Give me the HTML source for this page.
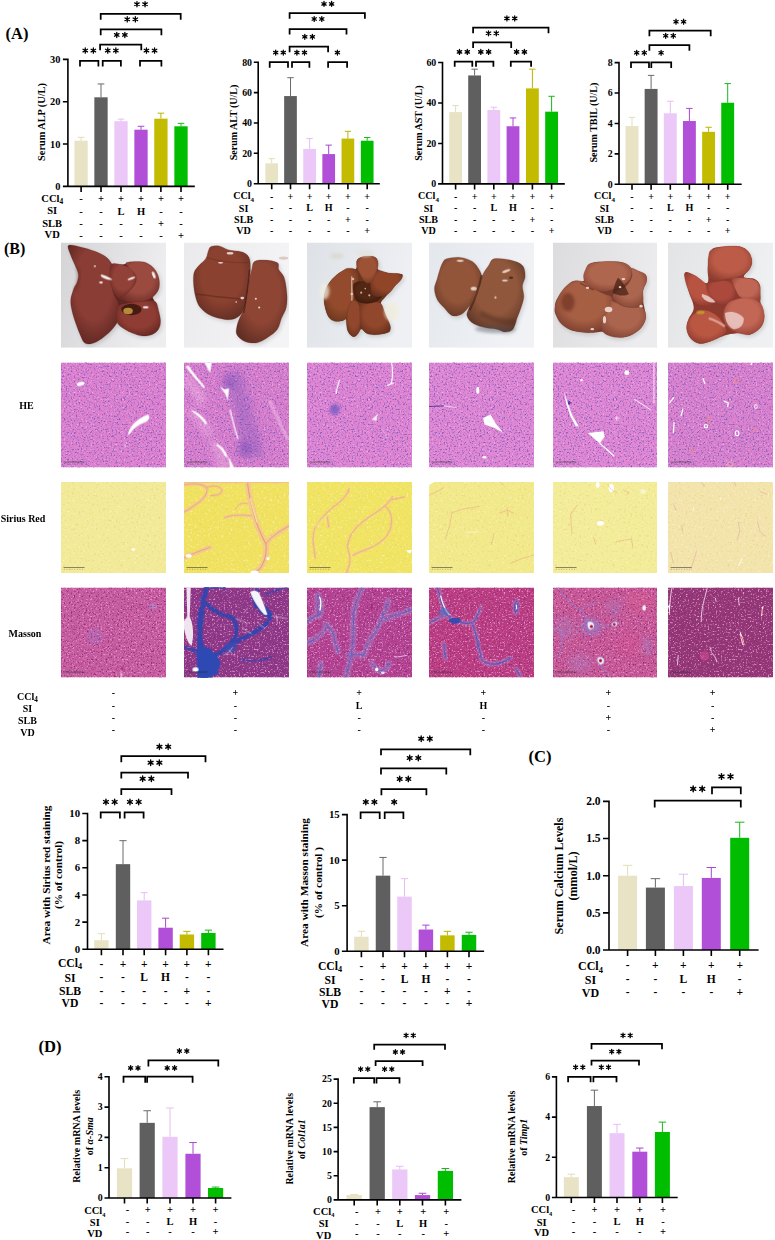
<!DOCTYPE html><html><head><meta charset="utf-8"><style>html,body{margin:0;padding:0;background:#fff;overflow:hidden}svg{display:block}text{font-family:"Liberation Serif",serif;font-weight:bold;fill:#000}</style></head><body>
<svg width="775" height="1240" viewBox="0 0 775 1240">
<rect width="775" height="1240" fill="#fff"/>
<defs><filter id="tHE" x="0" y="0" width="100%" height="100%" color-interpolation-filters="sRGB"><feTurbulence type="fractalNoise" baseFrequency="0.6" numOctaves="2" seed="4" result="n"/><feColorMatrix in="n" type="matrix" values="0 0 0 0 0.941 0 0 0 0 0.690 0 0 0 0 0.886 3.5 0 0 0 -2.0" result="l1"/><feGaussianBlur in="l1" stdDeviation="0.45" result="l1b"/><feColorMatrix in="n" type="matrix" values="0 0 0 0 0.494 0 0 0 0 0.376 0 0 0 0 0.761 0 4 0 0 -2.15" result="l2"/><feGaussianBlur in="l2" stdDeviation="0.45" result="l2b"/><feMerge><feMergeNode in="SourceGraphic"/><feMergeNode in="l1b"/><feMergeNode in="l2b"/></feMerge></filter>
<filter id="tSR" x="0" y="0" width="100%" height="100%" color-interpolation-filters="sRGB"><feTurbulence type="fractalNoise" baseFrequency="0.45" numOctaves="2" seed="7" result="n"/><feColorMatrix in="n" type="matrix" values="0 0 0 0 0.980 0 0 0 0 0.965 0 0 0 0 0.753 3 0 0 0 -1.75" result="l1"/><feGaussianBlur in="l1" stdDeviation="0.5" result="l1b"/><feColorMatrix in="n" type="matrix" values="0 0 0 0 0.894 0 0 0 0 0.816 0 0 0 0 0.439 0 3 0 0 -1.85" result="l2"/><feGaussianBlur in="l2" stdDeviation="0.5" result="l2b"/><feMerge><feMergeNode in="SourceGraphic"/><feMergeNode in="l1b"/><feMergeNode in="l2b"/></feMerge></filter>
<filter id="tMA" x="0" y="0" width="100%" height="100%" color-interpolation-filters="sRGB"><feTurbulence type="fractalNoise" baseFrequency="0.6" numOctaves="2" seed="11" result="n"/><feColorMatrix in="n" type="matrix" values="0 0 0 0 0.886 0 0 0 0 0.596 0 0 0 0 0.800 4 0 0 0 -2.2" result="l1"/><feGaussianBlur in="l1" stdDeviation="0.45" result="l1b"/><feColorMatrix in="n" type="matrix" values="0 0 0 0 0.557 0 0 0 0 0.173 0 0 0 0 0.455 0 4 0 0 -2.2" result="l2"/><feGaussianBlur in="l2" stdDeviation="0.45" result="l2b"/><feMerge><feMergeNode in="SourceGraphic"/><feMergeNode in="l1b"/><feMergeNode in="l2b"/></feMerge></filter>
<filter id="soft" x="-20%" y="-20%" width="140%" height="140%"><feGaussianBlur stdDeviation="4"/></filter>
<filter id="soft2" x="-20%" y="-20%" width="140%" height="140%"><feGaussianBlur stdDeviation="6"/></filter>
<filter id="rough" x="-10%" y="-10%" width="120%" height="120%"><feTurbulence type="fractalNoise" baseFrequency="0.045" numOctaves="2" seed="5" result="t"/><feDisplacementMap in="SourceGraphic" in2="t" scale="28" xChannelSelector="R" yChannelSelector="G" result="d"/><feGaussianBlur in="d" stdDeviation="3"/></filter>
<filter id="rough2" x="-10%" y="-10%" width="120%" height="120%"><feTurbulence type="fractalNoise" baseFrequency="0.06" numOctaves="2" seed="9" result="t"/><feDisplacementMap in="SourceGraphic" in2="t" scale="22" xChannelSelector="R" yChannelSelector="G" result="d"/><feGaussianBlur in="d" stdDeviation="2.5"/></filter>
<filter id="soft3" x="-20%" y="-20%" width="140%" height="140%"><feGaussianBlur stdDeviation="25"/></filter><filter id="pb1" x="-50%" y="-50%" width="200%" height="200%"><feGaussianBlur stdDeviation="4"/></filter>
<filter id="pb2" x="-50%" y="-50%" width="200%" height="200%"><feGaussianBlur stdDeviation="12"/></filter>
<filter id="psh" x="-20%" y="-20%" width="140%" height="140%"><feGaussianBlur stdDeviation="14"/></filter>
<linearGradient id="bg0" x1="0" y1="0" x2="1" y2="0.3"><stop offset="0" stop-color="#D4D4D6"/><stop offset="1" stop-color="#EEEEF0"/></linearGradient>
<radialGradient id="lg0_0" cx="50%" cy="40%" r="65%"><stop offset="0" stop-color="#893D35"/><stop offset=".55" stop-color="#893D35"/><stop offset="1" stop-color="#5E2521"/></radialGradient>
<radialGradient id="lg0_1" cx="50%" cy="40%" r="65%"><stop offset="0" stop-color="#914137"/><stop offset=".55" stop-color="#914137"/><stop offset="1" stop-color="#662823"/></radialGradient>
<radialGradient id="lg0_2" cx="50%" cy="40%" r="65%"><stop offset="0" stop-color="#9A4A3F"/><stop offset=".55" stop-color="#9A4A3F"/><stop offset="1" stop-color="#6D2C25"/></radialGradient>
<radialGradient id="lg0_3" cx="50%" cy="40%" r="65%"><stop offset="0" stop-color="#8F3D34"/><stop offset=".55" stop-color="#8F3D34"/><stop offset="1" stop-color="#622721"/></radialGradient>
<linearGradient id="bg1" x1="0" y1="0" x2="1" y2="0.3"><stop offset="0" stop-color="#EAEAEC"/><stop offset="1" stop-color="#F4F4F6"/></linearGradient>
<radialGradient id="lg1_0" cx="50%" cy="40%" r="65%"><stop offset="0" stop-color="#8B4130"/><stop offset=".55" stop-color="#8B4130"/><stop offset="1" stop-color="#612D23"/></radialGradient>
<radialGradient id="lg1_1" cx="50%" cy="40%" r="65%"><stop offset="0" stop-color="#8E4534"/><stop offset=".55" stop-color="#8E4534"/><stop offset="1" stop-color="#632F25"/></radialGradient>
<linearGradient id="bg2" x1="0" y1="0" x2="1" y2="0.3"><stop offset="0" stop-color="#DEE1E6"/><stop offset="1" stop-color="#EEF0F4"/></linearGradient>
<radialGradient id="lg2_0" cx="50%" cy="40%" r="65%"><stop offset="0" stop-color="#944B2D"/><stop offset=".55" stop-color="#944B2D"/><stop offset="1" stop-color="#6B361E"/></radialGradient>
<radialGradient id="lg2_1" cx="50%" cy="40%" r="65%"><stop offset="0" stop-color="#90472B"/><stop offset=".55" stop-color="#90472B"/><stop offset="1" stop-color="#67301E"/></radialGradient>
<radialGradient id="lg2_2" cx="50%" cy="40%" r="65%"><stop offset="0" stop-color="#90472B"/><stop offset=".55" stop-color="#90472B"/><stop offset="1" stop-color="#69321E"/></radialGradient>
<radialGradient id="lg2_3" cx="50%" cy="40%" r="65%"><stop offset="0" stop-color="#542714"/><stop offset=".55" stop-color="#542714"/><stop offset="1" stop-color="#3A1A0F"/></radialGradient>
<radialGradient id="lg2_4" cx="50%" cy="40%" r="65%"><stop offset="0" stop-color="#904529"/><stop offset=".55" stop-color="#904529"/><stop offset="1" stop-color="#672F1E"/></radialGradient>
<radialGradient id="lg2_5" cx="50%" cy="40%" r="65%"><stop offset="0" stop-color="#9D5236"/><stop offset=".55" stop-color="#9D5236"/><stop offset="1" stop-color="#723A21"/></radialGradient>
<linearGradient id="bg3" x1="0" y1="0" x2="1" y2="0.3"><stop offset="0" stop-color="#E4E7EC"/><stop offset="1" stop-color="#F0F2F6"/></linearGradient>
<radialGradient id="lg3_0" cx="50%" cy="40%" r="65%"><stop offset="0" stop-color="#92553A"/><stop offset=".55" stop-color="#92553A"/><stop offset="1" stop-color="#643724"/></radialGradient>
<radialGradient id="lg3_1" cx="50%" cy="40%" r="65%"><stop offset="0" stop-color="#90573C"/><stop offset=".55" stop-color="#90573C"/><stop offset="1" stop-color="#5D3527"/></radialGradient>
<linearGradient id="bg4" x1="0" y1="0" x2="1" y2="0.3"><stop offset="0" stop-color="#DCDCDE"/><stop offset="1" stop-color="#ECECEE"/></linearGradient>
<radialGradient id="lg4_0" cx="50%" cy="40%" r="65%"><stop offset="0" stop-color="#A75F44"/><stop offset=".55" stop-color="#A75F44"/><stop offset="1" stop-color="#773C2D"/></radialGradient>
<radialGradient id="lg4_1" cx="50%" cy="40%" r="65%"><stop offset="0" stop-color="#AB644D"/><stop offset=".55" stop-color="#AB644D"/><stop offset="1" stop-color="#834635"/></radialGradient>
<radialGradient id="lg4_2" cx="50%" cy="40%" r="65%"><stop offset="0" stop-color="#AC6650"/><stop offset=".55" stop-color="#AC6650"/><stop offset="1" stop-color="#844634"/></radialGradient>
<radialGradient id="lg4_3" cx="50%" cy="40%" r="65%"><stop offset="0" stop-color="#AE664E"/><stop offset=".55" stop-color="#AE664E"/><stop offset="1" stop-color="#864434"/></radialGradient>
<linearGradient id="bg5" x1="0" y1="0" x2="1" y2="0.3"><stop offset="0" stop-color="#E2E4E6"/><stop offset="1" stop-color="#EEF0F2"/></linearGradient>
<radialGradient id="lg5_0" cx="50%" cy="40%" r="65%"><stop offset="0" stop-color="#BA5743"/><stop offset=".55" stop-color="#BA5743"/><stop offset="1" stop-color="#8D3A2E"/></radialGradient>
<radialGradient id="lg5_1" cx="50%" cy="40%" r="65%"><stop offset="0" stop-color="#B85341"/><stop offset=".55" stop-color="#B85341"/><stop offset="1" stop-color="#8D382E"/></radialGradient>
<radialGradient id="lg5_2" cx="50%" cy="40%" r="65%"><stop offset="0" stop-color="#AA493C"/><stop offset=".55" stop-color="#AA493C"/><stop offset="1" stop-color="#83342E"/></radialGradient>
<radialGradient id="lg5_3" cx="50%" cy="40%" r="65%"><stop offset="0" stop-color="#BC5B47"/><stop offset=".55" stop-color="#BC5B47"/><stop offset="1" stop-color="#8F3E30"/></radialGradient>
<radialGradient id="lg5_4" cx="50%" cy="40%" r="65%"><stop offset="0" stop-color="#C06655"/><stop offset=".55" stop-color="#C06655"/><stop offset="1" stop-color="#954336"/></radialGradient>
<radialGradient id="lg5_5" cx="50%" cy="40%" r="65%"><stop offset="0" stop-color="#C26655"/><stop offset=".55" stop-color="#C26655"/><stop offset="1" stop-color="#974336"/></radialGradient></defs>
<text x="5.6" y="38.6" font-size="16.5">(A)</text>
<text x="3.9" y="253.6" font-size="16">(B)</text>
<text x="528.5" y="762.2" font-size="16.6">(C)</text>
<text x="38.6" y="1052" font-size="16.6">(D)</text>
<rect x="74.45" y="140.68" width="13.3" height="45.72" fill="#E9E3C6"/>
<path d="M81.1 140.68V137.3M77.77 137.3H84.42" stroke="#E4DDB8" stroke-width="1" fill="none"/>
<rect x="94.35" y="97.3" width="13.3" height="89.1" fill="#5F5F5F"/>
<path d="M101 97.3V83.96M97.67 83.96H104.33" stroke="#6A6A6A" stroke-width="1" fill="none"/>
<rect x="114.35" y="121.21" width="13.3" height="65.19" fill="#EBC8F7"/>
<path d="M121 121.21V119.1M117.67 119.1H124.33" stroke="#E6BDF2" stroke-width="1" fill="none"/>
<rect x="134.35" y="129.68" width="13.3" height="56.72" fill="#B14FD8"/>
<path d="M141 129.68V126.29M137.68 126.29H144.32" stroke="#A847D0" stroke-width="1" fill="none"/>
<rect x="154.25" y="118.67" width="13.3" height="67.73" fill="#C2BB00"/>
<path d="M160.9 118.67V113.17M157.58 113.17H164.22" stroke="#BDB500" stroke-width="1" fill="none"/>
<rect x="174.35" y="126.29" width="13.3" height="60.11" fill="#00BD00"/>
<path d="M181 126.29V123.33M177.68 123.33H184.32" stroke="#19B819" stroke-width="1" fill="none"/>
<path d="M67.9 58.61V186.4M62.9 186.4H194.8M62.9 186.4H67.9M62.9 144.07H67.9M62.9 101.74H67.9M62.9 59.41H67.9M81.1 186.4V191.9M101 186.4V191.9M121 186.4V191.9M141 186.4V191.9M160.9 186.4V191.9M181 186.4V191.9" stroke="#000" stroke-width="1.6" fill="none"/>
<text x="60.4" y="189.94" font-size="10.4" text-anchor="end">0</text>
<text x="60.4" y="147.61" font-size="10.4" text-anchor="end">10</text>
<text x="60.4" y="105.28" font-size="10.4" text-anchor="end">20</text>
<text x="60.4" y="62.95" font-size="10.4" text-anchor="end">30</text>
<path d="M80 66.5V60.8H98.4V66.5" fill="none" stroke="#000" stroke-width="1.75" stroke-linecap="butt" stroke-linejoin="miter"/>
<g stroke="#000" stroke-width="1.3" stroke-linecap="round"><path d="M85.25 47.99V53.21M82.99 49.3L87.51 51.91M82.99 51.91L87.51 49.3"/><circle cx="85.25" cy="50.6" r="0.99" stroke="none"/><path d="M93.35 47.99V53.21M91.09 49.3L95.61 51.91M91.09 51.91L95.61 49.3"/><circle cx="93.35" cy="50.6" r="0.99" stroke="none"/></g>
<path d="M102.7 66.5V60.8H120.9V66.5" fill="none" stroke="#000" stroke-width="1.75" stroke-linecap="butt" stroke-linejoin="miter"/>
<g stroke="#000" stroke-width="1.3" stroke-linecap="round"><path d="M107.75 47.99V53.21M105.49 49.3L110.01 51.91M105.49 51.91L110.01 49.3"/><circle cx="107.75" cy="50.6" r="0.99" stroke="none"/><path d="M115.85 47.99V53.21M113.59 49.3L118.11 51.91M113.59 51.91L118.11 49.3"/><circle cx="115.85" cy="50.6" r="0.99" stroke="none"/></g>
<path d="M140 66.5V60.8H161.4V66.5" fill="none" stroke="#000" stroke-width="1.75" stroke-linecap="butt" stroke-linejoin="miter"/>
<g stroke="#000" stroke-width="1.3" stroke-linecap="round"><path d="M146.45 47.99V53.21M144.19 49.3L148.71 51.91M144.19 51.91L148.71 49.3"/><circle cx="146.45" cy="50.6" r="0.99" stroke="none"/><path d="M154.55 47.99V53.21M152.29 49.3L156.81 51.91M152.29 51.91L156.81 49.3"/><circle cx="154.55" cy="50.6" r="0.99" stroke="none"/></g>
<path d="M100.1 50.3V44.7H141.3V50.3" fill="none" stroke="#000" stroke-width="1.75" stroke-linecap="butt" stroke-linejoin="miter"/>
<g stroke="#000" stroke-width="1.3" stroke-linecap="round"><path d="M116.75 32.29V37.51M114.49 33.59L119.01 36.2M114.49 36.2L119.01 33.59"/><circle cx="116.75" cy="34.9" r="0.99" stroke="none"/><path d="M124.85 32.29V37.51M122.59 33.59L127.11 36.2M122.59 36.2L127.11 33.59"/><circle cx="124.85" cy="34.9" r="0.99" stroke="none"/></g>
<path d="M100.7 35.2V29.4H161.4V35.2" fill="none" stroke="#000" stroke-width="1.75" stroke-linecap="butt" stroke-linejoin="miter"/>
<g stroke="#000" stroke-width="1.3" stroke-linecap="round"><path d="M127.25 16.69V21.91M124.99 18L129.51 20.61M124.99 20.61L129.51 18"/><circle cx="127.25" cy="19.3" r="0.99" stroke="none"/><path d="M135.35 16.69V21.91M133.09 18L137.61 20.61M133.09 20.61L137.61 18"/><circle cx="135.35" cy="19.3" r="0.99" stroke="none"/></g>
<path d="M100.7 19.8V13.9H180.7V19.8" fill="none" stroke="#000" stroke-width="1.75" stroke-linecap="butt" stroke-linejoin="miter"/>
<g stroke="#000" stroke-width="1.3" stroke-linecap="round"><path d="M136.95 1.59V6.81M134.69 2.9L139.21 5.5M134.69 5.5L139.21 2.9"/><circle cx="136.95" cy="4.2" r="0.99" stroke="none"/><path d="M145.05 1.59V6.81M142.79 2.9L147.31 5.5M142.79 5.5L147.31 2.9"/><circle cx="145.05" cy="4.2" r="0.99" stroke="none"/></g>
<text font-size="10.3" text-anchor="middle" transform="translate(41.3 122) rotate(-90)" dy="0.33em">Serum ALP (U/L)</text>
<text x="52.2" y="202" font-size="10.5" text-anchor="middle">CCl<tspan font-size="7.35" dy="2.31">4</tspan></text>
<text x="52.2" y="214.3" font-size="10.5" text-anchor="middle">SI</text>
<text x="52.2" y="226.5" font-size="10.5" text-anchor="middle">SLB</text>
<text x="52.2" y="238.4" font-size="10.5" text-anchor="middle">VD</text>
<text x="81.1" y="202.3" font-size="10.5" text-anchor="middle">-</text>
<text x="101" y="202.3" font-size="10.5" text-anchor="middle">+</text>
<text x="121" y="202.3" font-size="10.5" text-anchor="middle">+</text>
<text x="141" y="202.3" font-size="10.5" text-anchor="middle">+</text>
<text x="160.9" y="202.3" font-size="10.5" text-anchor="middle">+</text>
<text x="181" y="202.3" font-size="10.5" text-anchor="middle">+</text>
<text x="81.1" y="214.5" font-size="10.5" text-anchor="middle">-</text>
<text x="101" y="214.5" font-size="10.5" text-anchor="middle">-</text>
<text x="121" y="214.5" font-size="10.5" text-anchor="middle">L</text>
<text x="141" y="214.5" font-size="10.5" text-anchor="middle">H</text>
<text x="160.9" y="214.5" font-size="10.5" text-anchor="middle">-</text>
<text x="181" y="214.5" font-size="10.5" text-anchor="middle">-</text>
<text x="81.1" y="226.6" font-size="10.5" text-anchor="middle">-</text>
<text x="101" y="226.6" font-size="10.5" text-anchor="middle">-</text>
<text x="121" y="226.6" font-size="10.5" text-anchor="middle">-</text>
<text x="141" y="226.6" font-size="10.5" text-anchor="middle">-</text>
<text x="160.9" y="226.6" font-size="10.5" text-anchor="middle">+</text>
<text x="181" y="226.6" font-size="10.5" text-anchor="middle">-</text>
<text x="81.1" y="238.6" font-size="10.5" text-anchor="middle">-</text>
<text x="101" y="238.6" font-size="10.5" text-anchor="middle">-</text>
<text x="121" y="238.6" font-size="10.5" text-anchor="middle">-</text>
<text x="141" y="238.6" font-size="10.5" text-anchor="middle">-</text>
<text x="160.9" y="238.6" font-size="10.5" text-anchor="middle">-</text>
<text x="181" y="238.6" font-size="10.5" text-anchor="middle">+</text>
<rect x="265.35" y="163.35" width="12.7" height="20.35" fill="#E9E3C6"/>
<path d="M271.7 163.35V158.64M268.52 158.64H274.88" stroke="#E4DDB8" stroke-width="1" fill="none"/>
<rect x="284.15" y="96.07" width="12.7" height="87.63" fill="#5F5F5F"/>
<path d="M290.5 96.07V77.69M287.32 77.69H293.68" stroke="#6A6A6A" stroke-width="1" fill="none"/>
<rect x="303.25" y="148.92" width="12.7" height="34.78" fill="#EBC8F7"/>
<path d="M309.6 148.92V138.59M306.43 138.59H312.78" stroke="#E6BDF2" stroke-width="1" fill="none"/>
<rect x="322.35" y="154.08" width="12.7" height="29.62" fill="#B14FD8"/>
<path d="M328.7 154.08V145.12M325.52 145.12H331.88" stroke="#A847D0" stroke-width="1" fill="none"/>
<rect x="341.55" y="138.59" width="12.7" height="45.11" fill="#C2BB00"/>
<path d="M347.9 138.59V131.3M344.72 131.3H351.07" stroke="#BDB500" stroke-width="1" fill="none"/>
<rect x="360.85" y="140.72" width="12.7" height="42.98" fill="#00BD00"/>
<path d="M367.2 140.72V137.53M364.02 137.53H370.38" stroke="#19B819" stroke-width="1" fill="none"/>
<path d="M258.2 61.4V183.7M253.8 183.7H379.8M253.8 183.7H258.2M253.8 153.32H258.2M253.8 122.95H258.2M253.8 92.58H258.2M253.8 62.2H258.2M271.7 183.7V189.2M290.5 183.7V189.2M309.6 183.7V189.2M328.7 183.7V189.2M347.9 183.7V189.2M367.2 183.7V189.2" stroke="#000" stroke-width="1.6" fill="none"/>
<text x="252" y="187.07" font-size="9.9" text-anchor="end">0</text>
<text x="252" y="156.69" font-size="9.9" text-anchor="end">20</text>
<text x="252" y="126.32" font-size="9.9" text-anchor="end">40</text>
<text x="252" y="95.94" font-size="9.9" text-anchor="end">60</text>
<text x="252" y="65.57" font-size="9.9" text-anchor="end">80</text>
<path d="M269.7 67.7V62.2H288V67.7" fill="none" stroke="#000" stroke-width="1.75" stroke-linecap="butt" stroke-linejoin="miter"/>
<g stroke="#000" stroke-width="1.3" stroke-linecap="round"><path d="M275.7 50.17V55.03M273.6 51.39L277.8 53.81M273.6 53.81L277.8 51.39"/><circle cx="275.7" cy="52.6" r="0.92" stroke="none"/><path d="M283.3 50.17V55.03M281.2 51.39L285.4 53.81M281.2 53.81L285.4 51.39"/><circle cx="283.3" cy="52.6" r="0.92" stroke="none"/></g>
<path d="M292 67.7V62.2H309.4V67.7" fill="none" stroke="#000" stroke-width="1.75" stroke-linecap="butt" stroke-linejoin="miter"/>
<g stroke="#000" stroke-width="1.3" stroke-linecap="round"><path d="M296.9 50.17V55.03M294.8 51.39L299 53.81M294.8 53.81L299 51.39"/><circle cx="296.9" cy="52.6" r="0.92" stroke="none"/><path d="M304.5 50.17V55.03M302.4 51.39L306.6 53.81M302.4 53.81L306.6 51.39"/><circle cx="304.5" cy="52.6" r="0.92" stroke="none"/></g>
<path d="M328.1 67.7V62.2H347.1V67.7" fill="none" stroke="#000" stroke-width="1.75" stroke-linecap="butt" stroke-linejoin="miter"/>
<g stroke="#000" stroke-width="1.3" stroke-linecap="round"><path d="M337.4 50.17V55.03M335.3 51.39L339.5 53.81M335.3 53.81L339.5 51.39"/><circle cx="337.4" cy="52.6" r="0.92" stroke="none"/></g>
<path d="M289.6 52.3V46.6H328.1V52.3" fill="none" stroke="#000" stroke-width="1.75" stroke-linecap="butt" stroke-linejoin="miter"/>
<g stroke="#000" stroke-width="1.3" stroke-linecap="round"><path d="M304.8 34.37V39.23M302.7 35.58L306.9 38.02M302.7 38.02L306.9 35.58"/><circle cx="304.8" cy="36.8" r="0.92" stroke="none"/><path d="M312.4 34.37V39.23M310.3 35.58L314.5 38.02M310.3 38.02L314.5 35.58"/><circle cx="312.4" cy="36.8" r="0.92" stroke="none"/></g>
<path d="M289.6 34.6V29.2H346.5V34.6" fill="none" stroke="#000" stroke-width="1.75" stroke-linecap="butt" stroke-linejoin="miter"/>
<g stroke="#000" stroke-width="1.3" stroke-linecap="round"><path d="M314.2 16.57V21.43M312.1 17.79L316.3 20.21M312.1 20.21L316.3 17.79"/><circle cx="314.2" cy="19" r="0.92" stroke="none"/><path d="M321.8 16.57V21.43M319.7 17.79L323.9 20.21M319.7 20.21L323.9 17.79"/><circle cx="321.8" cy="19" r="0.92" stroke="none"/></g>
<path d="M289.6 18.8V13.1H364.9V18.8" fill="none" stroke="#000" stroke-width="1.75" stroke-linecap="butt" stroke-linejoin="miter"/>
<g stroke="#000" stroke-width="1.3" stroke-linecap="round"><path d="M324 1.47V6.33M321.9 2.69L326.1 5.12M321.9 5.12L326.1 2.69"/><circle cx="324" cy="3.9" r="0.92" stroke="none"/><path d="M331.6 1.47V6.33M329.5 2.69L333.7 5.12M329.5 5.12L333.7 2.69"/><circle cx="331.6" cy="3.9" r="0.92" stroke="none"/></g>
<text font-size="10" text-anchor="middle" transform="translate(233.7 122.5) rotate(-90)" dy="0.33em">Serum ALT (U/L)</text>
<text x="243.6" y="199.3" font-size="10.1" text-anchor="middle">CCl<tspan font-size="7.07" dy="2.22">4</tspan></text>
<text x="243.6" y="211.6" font-size="10.1" text-anchor="middle">SI</text>
<text x="243.6" y="222.7" font-size="10.1" text-anchor="middle">SLB</text>
<text x="243.6" y="233.5" font-size="10.1" text-anchor="middle">VD</text>
<text x="271.7" y="199.5" font-size="10.1" text-anchor="middle">-</text>
<text x="290.5" y="199.5" font-size="10.1" text-anchor="middle">+</text>
<text x="309.6" y="199.5" font-size="10.1" text-anchor="middle">+</text>
<text x="328.7" y="199.5" font-size="10.1" text-anchor="middle">+</text>
<text x="347.9" y="199.5" font-size="10.1" text-anchor="middle">+</text>
<text x="367.2" y="199.5" font-size="10.1" text-anchor="middle">+</text>
<text x="271.7" y="211" font-size="10.1" text-anchor="middle">-</text>
<text x="290.5" y="211" font-size="10.1" text-anchor="middle">-</text>
<text x="309.6" y="211" font-size="10.1" text-anchor="middle">L</text>
<text x="328.7" y="211" font-size="10.1" text-anchor="middle">H</text>
<text x="347.9" y="211" font-size="10.1" text-anchor="middle">-</text>
<text x="367.2" y="211" font-size="10.1" text-anchor="middle">-</text>
<text x="271.7" y="222.5" font-size="10.1" text-anchor="middle">-</text>
<text x="290.5" y="222.5" font-size="10.1" text-anchor="middle">-</text>
<text x="309.6" y="222.5" font-size="10.1" text-anchor="middle">-</text>
<text x="328.7" y="222.5" font-size="10.1" text-anchor="middle">-</text>
<text x="347.9" y="222.5" font-size="10.1" text-anchor="middle">+</text>
<text x="367.2" y="222.5" font-size="10.1" text-anchor="middle">-</text>
<text x="271.7" y="234" font-size="10.1" text-anchor="middle">-</text>
<text x="290.5" y="234" font-size="10.1" text-anchor="middle">-</text>
<text x="309.6" y="234" font-size="10.1" text-anchor="middle">-</text>
<text x="328.7" y="234" font-size="10.1" text-anchor="middle">-</text>
<text x="347.9" y="234" font-size="10.1" text-anchor="middle">-</text>
<text x="367.2" y="234" font-size="10.1" text-anchor="middle">+</text>
<rect x="449.2" y="112.07" width="12.8" height="71.83" fill="#E9E3C6"/>
<path d="M455.6 112.07V105.6M452.4 105.6H458.8" stroke="#E4DDB8" stroke-width="1" fill="none"/>
<rect x="468.2" y="75.45" width="12.8" height="108.45" fill="#5F5F5F"/>
<path d="M474.6 75.45V69.18M471.4 69.18H477.8" stroke="#6A6A6A" stroke-width="1" fill="none"/>
<rect x="487.4" y="110.05" width="12.8" height="73.85" fill="#EBC8F7"/>
<path d="M493.8 110.05V107.22M490.6 107.22H497" stroke="#E6BDF2" stroke-width="1" fill="none"/>
<rect x="506.6" y="126.23" width="12.8" height="57.67" fill="#B14FD8"/>
<path d="M513 126.23V117.94M509.8 117.94H516.2" stroke="#A847D0" stroke-width="1" fill="none"/>
<rect x="526" y="88.4" width="12.8" height="95.5" fill="#C2BB00"/>
<path d="M532.4 88.4V69.18M529.2 69.18H535.6" stroke="#BDB500" stroke-width="1" fill="none"/>
<rect x="545.2" y="111.67" width="12.8" height="72.23" fill="#00BD00"/>
<path d="M551.6 111.67V96.29M548.4 96.29H554.8" stroke="#19B819" stroke-width="1" fill="none"/>
<path d="M442.5 61.7V183.9M438.1 183.9H564.8M438.1 183.9H442.5M438.1 143.43H442.5M438.1 102.97H442.5M438.1 62.5H442.5M455.6 183.9V189.4M474.6 183.9V189.4M493.8 183.9V189.4M513 183.9V189.4M532.4 183.9V189.4M551.6 183.9V189.4" stroke="#000" stroke-width="1.6" fill="none"/>
<text x="436.3" y="187.27" font-size="9.9" text-anchor="end">0</text>
<text x="436.3" y="146.8" font-size="9.9" text-anchor="end">20</text>
<text x="436.3" y="106.33" font-size="9.9" text-anchor="end">40</text>
<text x="436.3" y="65.87" font-size="9.9" text-anchor="end">60</text>
<path d="M454.7 66.8V61.6H472.3V66.8" fill="none" stroke="#000" stroke-width="1.75" stroke-linecap="butt" stroke-linejoin="miter"/>
<g stroke="#000" stroke-width="1.3" stroke-linecap="round"><path d="M459.5 49.38V54.42M457.32 50.64L461.68 53.16M457.32 53.16L461.68 50.64"/><circle cx="459.5" cy="51.9" r="0.96" stroke="none"/><path d="M467.3 49.38V54.42M465.12 50.64L469.48 53.16M465.12 53.16L469.48 50.64"/><circle cx="467.3" cy="51.9" r="0.96" stroke="none"/></g>
<path d="M476 66.8V61.6H493.4V66.8" fill="none" stroke="#000" stroke-width="1.75" stroke-linecap="butt" stroke-linejoin="miter"/>
<g stroke="#000" stroke-width="1.3" stroke-linecap="round"><path d="M480.8 49.38V54.42M478.62 50.64L482.98 53.16M478.62 53.16L482.98 50.64"/><circle cx="480.8" cy="51.9" r="0.96" stroke="none"/><path d="M488.6 49.38V54.42M486.42 50.64L490.78 53.16M486.42 53.16L490.78 50.64"/><circle cx="488.6" cy="51.9" r="0.96" stroke="none"/></g>
<path d="M510.8 66.8V61.6H531.1V66.8" fill="none" stroke="#000" stroke-width="1.75" stroke-linecap="butt" stroke-linejoin="miter"/>
<g stroke="#000" stroke-width="1.3" stroke-linecap="round"><path d="M516.6 49.38V54.42M514.42 50.64L518.78 53.16M514.42 53.16L518.78 50.64"/><circle cx="516.6" cy="51.9" r="0.96" stroke="none"/><path d="M524.4 49.38V54.42M522.22 50.64L526.58 53.16M522.22 53.16L526.58 50.64"/><circle cx="524.4" cy="51.9" r="0.96" stroke="none"/></g>
<path d="M473.1 48V42.3H511.2V48" fill="none" stroke="#000" stroke-width="1.75" stroke-linecap="butt" stroke-linejoin="miter"/>
<g stroke="#000" stroke-width="1.3" stroke-linecap="round"><path d="M488.5 30.78V35.82M486.32 32.04L490.68 34.56M486.32 34.56L490.68 32.04"/><circle cx="488.5" cy="33.3" r="0.96" stroke="none"/><path d="M496.3 30.78V35.82M494.12 32.04L498.48 34.56M494.12 34.56L498.48 32.04"/><circle cx="496.3" cy="33.3" r="0.96" stroke="none"/></g>
<path d="M473.1 33.3V27.6H548.5V33.3" fill="none" stroke="#000" stroke-width="1.75" stroke-linecap="butt" stroke-linejoin="miter"/>
<g stroke="#000" stroke-width="1.3" stroke-linecap="round"><path d="M506.9 15.88V20.92M504.72 17.14L509.08 19.66M504.72 19.66L509.08 17.14"/><circle cx="506.9" cy="18.4" r="0.96" stroke="none"/><path d="M514.7 15.88V20.92M512.52 17.14L516.88 19.66M512.52 19.66L516.88 17.14"/><circle cx="514.7" cy="18.4" r="0.96" stroke="none"/></g>
<text font-size="10" text-anchor="middle" transform="translate(418.3 123) rotate(-90)" dy="0.33em">Serum AST (U/L)</text>
<text x="428.5" y="199.3" font-size="10.1" text-anchor="middle">CCl<tspan font-size="7.07" dy="2.22">4</tspan></text>
<text x="428.5" y="211.6" font-size="10.1" text-anchor="middle">SI</text>
<text x="428.5" y="222.7" font-size="10.1" text-anchor="middle">SLB</text>
<text x="428.5" y="233.5" font-size="10.1" text-anchor="middle">VD</text>
<text x="455.6" y="199.5" font-size="10.1" text-anchor="middle">-</text>
<text x="474.6" y="199.5" font-size="10.1" text-anchor="middle">+</text>
<text x="493.8" y="199.5" font-size="10.1" text-anchor="middle">+</text>
<text x="513" y="199.5" font-size="10.1" text-anchor="middle">+</text>
<text x="532.4" y="199.5" font-size="10.1" text-anchor="middle">+</text>
<text x="551.6" y="199.5" font-size="10.1" text-anchor="middle">+</text>
<text x="455.6" y="211" font-size="10.1" text-anchor="middle">-</text>
<text x="474.6" y="211" font-size="10.1" text-anchor="middle">-</text>
<text x="493.8" y="211" font-size="10.1" text-anchor="middle">L</text>
<text x="513" y="211" font-size="10.1" text-anchor="middle">H</text>
<text x="532.4" y="211" font-size="10.1" text-anchor="middle">-</text>
<text x="551.6" y="211" font-size="10.1" text-anchor="middle">-</text>
<text x="455.6" y="222.5" font-size="10.1" text-anchor="middle">-</text>
<text x="474.6" y="222.5" font-size="10.1" text-anchor="middle">-</text>
<text x="493.8" y="222.5" font-size="10.1" text-anchor="middle">-</text>
<text x="513" y="222.5" font-size="10.1" text-anchor="middle">-</text>
<text x="532.4" y="222.5" font-size="10.1" text-anchor="middle">+</text>
<text x="551.6" y="222.5" font-size="10.1" text-anchor="middle">-</text>
<text x="455.6" y="234" font-size="10.1" text-anchor="middle">-</text>
<text x="474.6" y="234" font-size="10.1" text-anchor="middle">-</text>
<text x="493.8" y="234" font-size="10.1" text-anchor="middle">-</text>
<text x="513" y="234" font-size="10.1" text-anchor="middle">-</text>
<text x="532.4" y="234" font-size="10.1" text-anchor="middle">-</text>
<text x="551.6" y="234" font-size="10.1" text-anchor="middle">+</text>
<rect x="625.55" y="126.04" width="12.9" height="58.26" fill="#E9E3C6"/>
<path d="M632 126.04V117.36M628.77 117.36H635.23" stroke="#E4DDB8" stroke-width="1" fill="none"/>
<rect x="644.65" y="88.92" width="12.9" height="95.38" fill="#5F5F5F"/>
<path d="M651.1 88.92V75.38M647.88 75.38H654.33" stroke="#6A6A6A" stroke-width="1" fill="none"/>
<rect x="663.85" y="113.26" width="12.9" height="71.04" fill="#EBC8F7"/>
<path d="M670.3 113.26V101.24M667.07 101.24H673.52" stroke="#E6BDF2" stroke-width="1" fill="none"/>
<rect x="682.95" y="121.02" width="12.9" height="63.28" fill="#B14FD8"/>
<path d="M689.4 121.02V108.39M686.17 108.39H692.62" stroke="#A847D0" stroke-width="1" fill="none"/>
<rect x="702.15" y="131.82" width="12.9" height="52.48" fill="#C2BB00"/>
<path d="M708.6 131.82V127.25M705.38 127.25H711.83" stroke="#BDB500" stroke-width="1" fill="none"/>
<rect x="721.25" y="102.76" width="12.9" height="81.54" fill="#00BD00"/>
<path d="M727.7 102.76V83.59M724.48 83.59H730.93" stroke="#19B819" stroke-width="1" fill="none"/>
<path d="M619 61.8V184.3M614.6 184.3H741.7M614.6 184.3H619M614.6 153.88H619M614.6 123.45H619M614.6 93.03H619M614.6 62.6H619M632 184.3V189.8M651.1 184.3V189.8M670.3 184.3V189.8M689.4 184.3V189.8M708.6 184.3V189.8M727.7 184.3V189.8" stroke="#000" stroke-width="1.6" fill="none"/>
<text x="612.8" y="187.67" font-size="9.9" text-anchor="end">0</text>
<text x="612.8" y="157.24" font-size="9.9" text-anchor="end">2</text>
<text x="612.8" y="126.82" font-size="9.9" text-anchor="end">4</text>
<text x="612.8" y="96.39" font-size="9.9" text-anchor="end">6</text>
<text x="612.8" y="65.97" font-size="9.9" text-anchor="end">8</text>
<path d="M631 68.1V62.4H649V68.1" fill="none" stroke="#000" stroke-width="1.75" stroke-linecap="butt" stroke-linejoin="miter"/>
<g stroke="#000" stroke-width="1.3" stroke-linecap="round"><path d="M636.7 50.32V55.28M634.55 51.56L638.85 54.04M634.55 54.04L638.85 51.56"/><circle cx="636.7" cy="52.8" r="0.94" stroke="none"/><path d="M644.3 50.32V55.28M642.15 51.56L646.45 54.04M642.15 54.04L646.45 51.56"/><circle cx="644.3" cy="52.8" r="0.94" stroke="none"/></g>
<path d="M651.3 68.1V62.4H671.2V68.1" fill="none" stroke="#000" stroke-width="1.75" stroke-linecap="butt" stroke-linejoin="miter"/>
<g stroke="#000" stroke-width="1.3" stroke-linecap="round"><path d="M661.1 50.32V55.28M658.95 51.56L663.25 54.04M658.95 54.04L663.25 51.56"/><circle cx="661.1" cy="52.8" r="0.94" stroke="none"/></g>
<path d="M649.4 50.7V45.2H689.4V50.7" fill="none" stroke="#000" stroke-width="1.75" stroke-linecap="butt" stroke-linejoin="miter"/>
<g stroke="#000" stroke-width="1.3" stroke-linecap="round"><path d="M665.7 33.32V38.28M663.55 34.56L667.85 37.04M663.55 37.04L667.85 34.56"/><circle cx="665.7" cy="35.8" r="0.94" stroke="none"/><path d="M673.3 33.32V38.28M671.15 34.56L675.45 37.04M671.15 37.04L675.45 34.56"/><circle cx="673.3" cy="35.8" r="0.94" stroke="none"/></g>
<path d="M649.4 36.2V30.7H710.7V36.2" fill="none" stroke="#000" stroke-width="1.75" stroke-linecap="butt" stroke-linejoin="miter"/>
<g stroke="#000" stroke-width="1.3" stroke-linecap="round"><path d="M676 19.22V24.18M673.85 20.46L678.15 22.94M673.85 22.94L678.15 20.46"/><circle cx="676" cy="21.7" r="0.94" stroke="none"/><path d="M683.6 19.22V24.18M681.45 20.46L685.75 22.94M681.45 22.94L685.75 20.46"/><circle cx="683.6" cy="21.7" r="0.94" stroke="none"/></g>
<text font-size="10" text-anchor="middle" transform="translate(593.7 122.6) rotate(-90)" dy="0.33em">Serum TBIL (U/L)</text>
<text x="604.5" y="199.3" font-size="10.1" text-anchor="middle">CCl<tspan font-size="7.07" dy="2.22">4</tspan></text>
<text x="604.5" y="211.6" font-size="10.1" text-anchor="middle">SI</text>
<text x="604.5" y="222.7" font-size="10.1" text-anchor="middle">SLB</text>
<text x="604.5" y="233.5" font-size="10.1" text-anchor="middle">VD</text>
<text x="632" y="199.5" font-size="10.1" text-anchor="middle">-</text>
<text x="651.1" y="199.5" font-size="10.1" text-anchor="middle">+</text>
<text x="670.3" y="199.5" font-size="10.1" text-anchor="middle">+</text>
<text x="689.4" y="199.5" font-size="10.1" text-anchor="middle">+</text>
<text x="708.6" y="199.5" font-size="10.1" text-anchor="middle">+</text>
<text x="727.7" y="199.5" font-size="10.1" text-anchor="middle">+</text>
<text x="632" y="211" font-size="10.1" text-anchor="middle">-</text>
<text x="651.1" y="211" font-size="10.1" text-anchor="middle">-</text>
<text x="670.3" y="211" font-size="10.1" text-anchor="middle">L</text>
<text x="689.4" y="211" font-size="10.1" text-anchor="middle">H</text>
<text x="708.6" y="211" font-size="10.1" text-anchor="middle">-</text>
<text x="727.7" y="211" font-size="10.1" text-anchor="middle">-</text>
<text x="632" y="222.5" font-size="10.1" text-anchor="middle">-</text>
<text x="651.1" y="222.5" font-size="10.1" text-anchor="middle">-</text>
<text x="670.3" y="222.5" font-size="10.1" text-anchor="middle">-</text>
<text x="689.4" y="222.5" font-size="10.1" text-anchor="middle">-</text>
<text x="708.6" y="222.5" font-size="10.1" text-anchor="middle">+</text>
<text x="727.7" y="222.5" font-size="10.1" text-anchor="middle">-</text>
<text x="632" y="234" font-size="10.1" text-anchor="middle">-</text>
<text x="651.1" y="234" font-size="10.1" text-anchor="middle">-</text>
<text x="670.3" y="234" font-size="10.1" text-anchor="middle">-</text>
<text x="689.4" y="234" font-size="10.1" text-anchor="middle">-</text>
<text x="708.6" y="234" font-size="10.1" text-anchor="middle">-</text>
<text x="727.7" y="234" font-size="10.1" text-anchor="middle">+</text>
<rect x="94.2" y="940.2" width="14.4" height="9.1" fill="#E9E3C6"/>
<path d="M101.4 940.2V933.68M97.8 933.68H105" stroke="#E4DDB8" stroke-width="1" fill="none"/>
<rect x="115.8" y="864.15" width="14.4" height="85.15" fill="#5F5F5F"/>
<path d="M123 864.15V840.66M119.4 840.66H126.6" stroke="#6A6A6A" stroke-width="1" fill="none"/>
<rect x="137" y="900.41" width="14.4" height="48.89" fill="#EBC8F7"/>
<path d="M144.2 900.41V892.67M140.6 892.67H147.8" stroke="#E6BDF2" stroke-width="1" fill="none"/>
<rect x="158.4" y="927.71" width="14.4" height="21.59" fill="#B14FD8"/>
<path d="M165.6 927.71V918.2M162 918.2H169.2" stroke="#A847D0" stroke-width="1" fill="none"/>
<rect x="179.7" y="934.5" width="14.4" height="14.8" fill="#C2BB00"/>
<path d="M186.9 934.5V931.37M183.3 931.37H190.5" stroke="#BDB500" stroke-width="1" fill="none"/>
<rect x="201.2" y="933" width="14.4" height="16.3" fill="#00BD00"/>
<path d="M208.4 933V930.15M204.8 930.15H212" stroke="#19B819" stroke-width="1" fill="none"/>
<path d="M87.5 812.7V949.3M82.3 949.3H223.5M82.3 949.3H87.5M82.3 922.14H87.5M82.3 894.98H87.5M82.3 867.82H87.5M82.3 840.66H87.5M82.3 813.5H87.5M101.4 949.3V955.3M123 949.3V955.3M144.2 949.3V955.3M165.6 949.3V955.3M186.9 949.3V955.3M208.4 949.3V955.3" stroke="#000" stroke-width="1.6" fill="none"/>
<text x="80.1" y="952.97" font-size="10.8" text-anchor="end">0</text>
<text x="80.1" y="925.81" font-size="10.8" text-anchor="end">2</text>
<text x="80.1" y="898.65" font-size="10.8" text-anchor="end">4</text>
<text x="80.1" y="871.49" font-size="10.8" text-anchor="end">6</text>
<text x="80.1" y="844.33" font-size="10.8" text-anchor="end">8</text>
<text x="80.1" y="817.17" font-size="10.8" text-anchor="end">10</text>
<path d="M100.7 818.4V812.4H119.9V818.4" fill="none" stroke="#000" stroke-width="1.75" stroke-linecap="butt" stroke-linejoin="miter"/>
<g stroke="#000" stroke-width="1.4" stroke-linecap="round"><path d="M105.95 799.11V804.69M103.53 800.5L108.37 803.29M103.53 803.29L108.37 800.5"/><circle cx="105.95" cy="801.9" r="1.06" stroke="none"/><path d="M114.65 799.11V804.69M112.23 800.5L117.07 803.29M112.23 803.29L117.07 800.5"/><circle cx="114.65" cy="801.9" r="1.06" stroke="none"/></g>
<path d="M124.6 818.4V812.4H143.6V818.4" fill="none" stroke="#000" stroke-width="1.75" stroke-linecap="butt" stroke-linejoin="miter"/>
<g stroke="#000" stroke-width="1.4" stroke-linecap="round"><path d="M129.95 799.11V804.69M127.53 800.5L132.37 803.29M127.53 803.29L132.37 800.5"/><circle cx="129.95" cy="801.9" r="1.06" stroke="none"/><path d="M138.65 799.11V804.69M136.23 800.5L141.07 803.29M136.23 803.29L141.07 800.5"/><circle cx="138.65" cy="801.9" r="1.06" stroke="none"/></g>
<path d="M121.3 795.1V789H171.5V795.1" fill="none" stroke="#000" stroke-width="1.75" stroke-linecap="butt" stroke-linejoin="miter"/>
<g stroke="#000" stroke-width="1.4" stroke-linecap="round"><path d="M142.65 776.01V781.59M140.23 777.4L145.07 780.19M140.23 780.19L145.07 777.4"/><circle cx="142.65" cy="778.8" r="1.06" stroke="none"/><path d="M151.35 776.01V781.59M148.93 777.4L153.77 780.19M148.93 780.19L153.77 777.4"/><circle cx="151.35" cy="778.8" r="1.06" stroke="none"/></g>
<path d="M121.3 778.6V772.5H188V778.6" fill="none" stroke="#000" stroke-width="1.75" stroke-linecap="butt" stroke-linejoin="miter"/>
<g stroke="#000" stroke-width="1.4" stroke-linecap="round"><path d="M150.65 759.91V765.49M148.23 761.31L153.07 764.1M148.23 764.1L153.07 761.31"/><circle cx="150.65" cy="762.7" r="1.06" stroke="none"/><path d="M159.35 759.91V765.49M156.93 761.31L161.77 764.1M156.93 764.1L161.77 761.31"/><circle cx="159.35" cy="762.7" r="1.06" stroke="none"/></g>
<path d="M121.3 762.3V756.2H205.5V762.3" fill="none" stroke="#000" stroke-width="1.75" stroke-linecap="butt" stroke-linejoin="miter"/>
<g stroke="#000" stroke-width="1.4" stroke-linecap="round"><path d="M159.45 744.01V749.59M157.03 745.4L161.87 748.19M157.03 748.19L161.87 745.4"/><circle cx="159.45" cy="746.8" r="1.06" stroke="none"/><path d="M168.15 744.01V749.59M165.73 745.4L170.57 748.19M165.73 748.19L170.57 745.4"/><circle cx="168.15" cy="746.8" r="1.06" stroke="none"/></g>
<text font-size="11.3" text-anchor="middle" transform="translate(46 875) rotate(-90)" dy="0.33em">Area with Sirius red staining</text>
<text font-size="11.3" text-anchor="middle" transform="translate(58.4 875) rotate(-90)" dy="0.33em">(% of control)</text>
<text x="70" y="966.7" font-size="11.7" text-anchor="middle">CCl<tspan font-size="8.19" dy="2.57">4</tspan></text>
<text x="70" y="981.6" font-size="11.7" text-anchor="middle">SI</text>
<text x="70" y="994.6" font-size="11.7" text-anchor="middle">SLB</text>
<text x="70" y="1007.3" font-size="11.7" text-anchor="middle">VD</text>
<text x="101.4" y="967.8" font-size="11.5" text-anchor="middle">-</text>
<text x="123" y="967.8" font-size="11.5" text-anchor="middle">+</text>
<text x="144.2" y="967.8" font-size="11.5" text-anchor="middle">+</text>
<text x="165.6" y="967.8" font-size="11.5" text-anchor="middle">+</text>
<text x="186.9" y="967.8" font-size="11.5" text-anchor="middle">+</text>
<text x="208.4" y="967.8" font-size="11.5" text-anchor="middle">+</text>
<text x="101.4" y="981.1" font-size="11.5" text-anchor="middle">-</text>
<text x="123" y="981.1" font-size="11.5" text-anchor="middle">-</text>
<text x="144.2" y="981.1" font-size="11.5" text-anchor="middle">L</text>
<text x="165.6" y="981.1" font-size="11.5" text-anchor="middle">H</text>
<text x="186.9" y="981.1" font-size="11.5" text-anchor="middle">-</text>
<text x="208.4" y="981.1" font-size="11.5" text-anchor="middle">-</text>
<text x="101.4" y="994.6" font-size="11.5" text-anchor="middle">-</text>
<text x="123" y="994.6" font-size="11.5" text-anchor="middle">-</text>
<text x="144.2" y="994.6" font-size="11.5" text-anchor="middle">-</text>
<text x="165.6" y="994.6" font-size="11.5" text-anchor="middle">-</text>
<text x="186.9" y="994.6" font-size="11.5" text-anchor="middle">+</text>
<text x="208.4" y="994.6" font-size="11.5" text-anchor="middle">-</text>
<text x="101.4" y="1006.9" font-size="11.5" text-anchor="middle">-</text>
<text x="123" y="1006.9" font-size="11.5" text-anchor="middle">-</text>
<text x="144.2" y="1006.9" font-size="11.5" text-anchor="middle">-</text>
<text x="165.6" y="1006.9" font-size="11.5" text-anchor="middle">-</text>
<text x="186.9" y="1006.9" font-size="11.5" text-anchor="middle">-</text>
<text x="208.4" y="1006.9" font-size="11.5" text-anchor="middle">+</text>
<rect x="354.15" y="936.72" width="14.5" height="14.58" fill="#E9E3C6"/>
<path d="M361.4 936.72V931.25M357.77 931.25H365.02" stroke="#E4DDB8" stroke-width="1" fill="none"/>
<rect x="375.75" y="875.66" width="14.5" height="75.64" fill="#5F5F5F"/>
<path d="M383 875.66V857.43M379.38 857.43H386.62" stroke="#6A6A6A" stroke-width="1" fill="none"/>
<rect x="397.25" y="896.62" width="14.5" height="54.68" fill="#EBC8F7"/>
<path d="M404.5 896.62V878.67M400.88 878.67H408.12" stroke="#E6BDF2" stroke-width="1" fill="none"/>
<rect x="418.65" y="929.52" width="14.5" height="21.78" fill="#B14FD8"/>
<path d="M425.9 929.52V925.14M422.27 925.14H429.52" stroke="#A847D0" stroke-width="1" fill="none"/>
<rect x="440.15" y="935.35" width="14.5" height="15.95" fill="#C2BB00"/>
<path d="M447.4 935.35V931.34M443.77 931.34H451.02" stroke="#BDB500" stroke-width="1" fill="none"/>
<rect x="461.75" y="934.9" width="14.5" height="16.4" fill="#00BD00"/>
<path d="M469 934.9V932.25M465.38 932.25H472.62" stroke="#19B819" stroke-width="1" fill="none"/>
<path d="M347.1 813.8V951.3M341.9 951.3H484.1M341.9 951.3H347.1M341.9 905.73H347.1M341.9 860.17H347.1M341.9 814.6H347.1M361.4 951.3V957.3M383 951.3V957.3M404.5 951.3V957.3M425.9 951.3V957.3M447.4 951.3V957.3M469 951.3V957.3" stroke="#000" stroke-width="1.6" fill="none"/>
<text x="339.7" y="954.97" font-size="10.8" text-anchor="end">0</text>
<text x="339.7" y="909.41" font-size="10.8" text-anchor="end">5</text>
<text x="339.7" y="863.84" font-size="10.8" text-anchor="end">10</text>
<text x="339.7" y="818.27" font-size="10.8" text-anchor="end">15</text>
<path d="M360.6 819V812.3H379.7V819" fill="none" stroke="#000" stroke-width="1.75" stroke-linecap="butt" stroke-linejoin="miter"/>
<g stroke="#000" stroke-width="1.4" stroke-linecap="round"><path d="M365.8 799.35V804.85M363.42 800.73L368.18 803.48M363.42 803.48L368.18 800.73"/><circle cx="365.8" cy="802.1" r="1.04" stroke="none"/><path d="M374.4 799.35V804.85M372.02 800.73L376.78 803.48M372.02 803.48L376.78 800.73"/><circle cx="374.4" cy="802.1" r="1.04" stroke="none"/></g>
<path d="M384.7 819V812.3H403.4V819" fill="none" stroke="#000" stroke-width="1.75" stroke-linecap="butt" stroke-linejoin="miter"/>
<g stroke="#000" stroke-width="1.4" stroke-linecap="round"><path d="M394.2 799.35V804.85M391.82 800.73L396.58 803.48M391.82 803.48L396.58 800.73"/><circle cx="394.2" cy="802.1" r="1.04" stroke="none"/></g>
<path d="M381.4 795.3V789.2H426.4V795.3" fill="none" stroke="#000" stroke-width="1.75" stroke-linecap="butt" stroke-linejoin="miter"/>
<g stroke="#000" stroke-width="1.4" stroke-linecap="round"><path d="M399.7 776.15V781.65M397.32 777.52L402.08 780.27M397.32 780.27L402.08 777.52"/><circle cx="399.7" cy="778.9" r="1.04" stroke="none"/><path d="M408.3 776.15V781.65M405.92 777.52L410.68 780.27M405.92 780.27L410.68 777.52"/><circle cx="408.3" cy="778.9" r="1.04" stroke="none"/></g>
<path d="M381 774.5V768.3H446.3V774.5" fill="none" stroke="#000" stroke-width="1.75" stroke-linecap="butt" stroke-linejoin="miter"/>
<g stroke="#000" stroke-width="1.4" stroke-linecap="round"><path d="M409.7 755.25V760.75M407.32 756.62L412.08 759.38M407.32 759.38L412.08 756.62"/><circle cx="409.7" cy="758" r="1.04" stroke="none"/><path d="M418.3 755.25V760.75M415.92 756.62L420.68 759.38M415.92 759.38L420.68 756.62"/><circle cx="418.3" cy="758" r="1.04" stroke="none"/></g>
<path d="M381 755.2V749.3H470.3V755.2" fill="none" stroke="#000" stroke-width="1.75" stroke-linecap="butt" stroke-linejoin="miter"/>
<g stroke="#000" stroke-width="1.4" stroke-linecap="round"><path d="M421.2 735.95V741.45M418.82 737.33L423.58 740.08M418.82 740.08L423.58 737.33"/><circle cx="421.2" cy="738.7" r="1.04" stroke="none"/><path d="M429.8 735.95V741.45M427.42 737.33L432.18 740.08M427.42 740.08L432.18 737.33"/><circle cx="429.8" cy="738.7" r="1.04" stroke="none"/></g>
<text font-size="11.3" text-anchor="middle" transform="translate(304.7 882.5) rotate(-90)" dy="0.33em">Area with Masson staining</text>
<text font-size="11.3" text-anchor="middle" transform="translate(317.8 882.5) rotate(-90)" dy="0.33em">(% of control )</text>
<text x="330" y="969.7" font-size="11.7" text-anchor="middle">CCl<tspan font-size="8.19" dy="2.57">4</tspan></text>
<text x="330" y="983.6" font-size="11.7" text-anchor="middle">SI</text>
<text x="330" y="995.6" font-size="11.7" text-anchor="middle">SLB</text>
<text x="330" y="1008.1" font-size="11.7" text-anchor="middle">VD</text>
<text x="361.4" y="969.8" font-size="11.5" text-anchor="middle">-</text>
<text x="383" y="969.8" font-size="11.5" text-anchor="middle">+</text>
<text x="404.5" y="969.8" font-size="11.5" text-anchor="middle">+</text>
<text x="425.9" y="969.8" font-size="11.5" text-anchor="middle">+</text>
<text x="447.4" y="969.8" font-size="11.5" text-anchor="middle">+</text>
<text x="469" y="969.8" font-size="11.5" text-anchor="middle">+</text>
<text x="361.4" y="982.6" font-size="11.5" text-anchor="middle">-</text>
<text x="383" y="982.6" font-size="11.5" text-anchor="middle">-</text>
<text x="404.5" y="982.6" font-size="11.5" text-anchor="middle">L</text>
<text x="425.9" y="982.6" font-size="11.5" text-anchor="middle">H</text>
<text x="447.4" y="982.6" font-size="11.5" text-anchor="middle">-</text>
<text x="469" y="982.6" font-size="11.5" text-anchor="middle">-</text>
<text x="361.4" y="994.9" font-size="11.5" text-anchor="middle">-</text>
<text x="383" y="994.9" font-size="11.5" text-anchor="middle">-</text>
<text x="404.5" y="994.9" font-size="11.5" text-anchor="middle">-</text>
<text x="425.9" y="994.9" font-size="11.5" text-anchor="middle">-</text>
<text x="447.4" y="994.9" font-size="11.5" text-anchor="middle">+</text>
<text x="469" y="994.9" font-size="11.5" text-anchor="middle">-</text>
<text x="361.4" y="1007.2" font-size="11.5" text-anchor="middle">-</text>
<text x="383" y="1007.2" font-size="11.5" text-anchor="middle">-</text>
<text x="404.5" y="1007.2" font-size="11.5" text-anchor="middle">-</text>
<text x="425.9" y="1007.2" font-size="11.5" text-anchor="middle">-</text>
<text x="447.4" y="1007.2" font-size="11.5" text-anchor="middle">-</text>
<text x="469" y="1007.2" font-size="11.5" text-anchor="middle">+</text>
<rect x="618.1" y="875.7" width="19" height="74.3" fill="#E9E3C6"/>
<path d="M627.6 875.7V865.3M622.85 865.3H632.35" stroke="#E4DDB8" stroke-width="1" fill="none"/>
<rect x="645.9" y="887.59" width="19" height="62.41" fill="#5F5F5F"/>
<path d="M655.4 887.59V878.67M650.65 878.67H660.15" stroke="#6A6A6A" stroke-width="1" fill="none"/>
<rect x="673.9" y="886.1" width="19" height="63.9" fill="#EBC8F7"/>
<path d="M683.4 886.1V874.21M678.65 874.21H688.15" stroke="#E6BDF2" stroke-width="1" fill="none"/>
<rect x="701.8" y="877.93" width="19" height="72.07" fill="#B14FD8"/>
<path d="M711.3 877.93V867.53M706.55 867.53H716.05" stroke="#A847D0" stroke-width="1" fill="none"/>
<rect x="730.2" y="837.81" width="19" height="112.19" fill="#00BD00"/>
<path d="M739.7 837.81V822.2M734.95 822.2H744.45" stroke="#19B819" stroke-width="1" fill="none"/>
<path d="M609 800.6V950M603 950H758.6M603 950H609M603 912.85H609M603 875.7H609M603 838.55H609M603 801.4H609M627.6 950V956M655.4 950V956M683.4 950V956M711.3 950V956M739.7 950V956" stroke="#000" stroke-width="1.6" fill="none"/>
<text x="600.6" y="953.91" font-size="11.5" text-anchor="end">0.0</text>
<text x="600.6" y="916.76" font-size="11.5" text-anchor="end">0.5</text>
<text x="600.6" y="879.61" font-size="11.5" text-anchor="end">1.0</text>
<text x="600.6" y="842.46" font-size="11.5" text-anchor="end">1.5</text>
<text x="600.6" y="805.31" font-size="11.5" text-anchor="end">2.0</text>
<path d="M654.7 807.5V800.6H740.8V807.5" fill="none" stroke="#000" stroke-width="1.75" stroke-linecap="butt" stroke-linejoin="miter"/>
<g stroke="#000" stroke-width="1.45" stroke-linecap="round"></g>
<path d="M712 794.2V787.4H740.8V794.2" fill="none" stroke="#000" stroke-width="1.75" stroke-linecap="butt" stroke-linejoin="miter"/>
<g stroke="#000" stroke-width="1.45" stroke-linecap="round"><path d="M721.5 773.62V779.38M719.01 775.06L723.99 777.94M719.01 777.94L723.99 775.06"/><circle cx="721.5" cy="776.5" r="1.09" stroke="none"/><path d="M730.5 773.62V779.38M728.01 775.06L732.99 777.94M728.01 777.94L732.99 775.06"/><circle cx="730.5" cy="776.5" r="1.09" stroke="none"/></g>
<text font-size="12.1" text-anchor="middle" transform="translate(558.6 876) rotate(-90)" dy="0.33em">Serum Calcium Levels</text>
<text font-size="12.1" text-anchor="middle" transform="translate(573.3 876) rotate(-90)" dy="0.33em">(mmol/L)</text>
<text x="590.4" y="969.9" font-size="12" text-anchor="middle">CCl<tspan font-size="8.4" dy="2.64">4</tspan></text>
<text x="590.4" y="984" font-size="12" text-anchor="middle">SI</text>
<text x="590.4" y="997.4" font-size="12" text-anchor="middle">VD</text>
<text x="627.6" y="968.6" font-size="11.5" text-anchor="middle">-</text>
<text x="655.4" y="968.6" font-size="11.5" text-anchor="middle">+</text>
<text x="683.4" y="968.6" font-size="11.5" text-anchor="middle">+</text>
<text x="711.3" y="968.6" font-size="11.5" text-anchor="middle">+</text>
<text x="739.7" y="968.6" font-size="11.5" text-anchor="middle">+</text>
<text x="627.6" y="982.8" font-size="11.5" text-anchor="middle">-</text>
<text x="655.4" y="982.8" font-size="11.5" text-anchor="middle">-</text>
<text x="683.4" y="982.8" font-size="11.5" text-anchor="middle">L</text>
<text x="711.3" y="982.8" font-size="11.5" text-anchor="middle">H</text>
<text x="739.7" y="982.8" font-size="11.5" text-anchor="middle">-</text>
<text x="627.6" y="995.6" font-size="11.5" text-anchor="middle">-</text>
<text x="655.4" y="995.6" font-size="11.5" text-anchor="middle">-</text>
<text x="683.4" y="995.6" font-size="11.5" text-anchor="middle">-</text>
<text x="711.3" y="995.6" font-size="11.5" text-anchor="middle">-</text>
<text x="739.7" y="995.6" font-size="11.5" text-anchor="middle">+</text>
<g stroke="#000" stroke-width="1.45" stroke-linecap="round"><path d="M693.2 786.02V791.78M690.71 787.46L695.69 790.34M690.71 790.34L695.69 787.46"/><circle cx="693.2" cy="788.9" r="1.09" stroke="none"/><path d="M702.2 786.02V791.78M699.71 787.46L704.69 790.34M699.71 790.34L704.69 787.46"/><circle cx="702.2" cy="788.9" r="1.09" stroke="none"/></g>
<rect x="116.9" y="1168.31" width="15.2" height="29.69" fill="#E9E3C6"/>
<path d="M124.5 1168.31V1158.61M120.7 1158.61H128.3" stroke="#E4DDB8" stroke-width="1" fill="none"/>
<rect x="139.6" y="1122.86" width="15.2" height="75.14" fill="#5F5F5F"/>
<path d="M147.2 1122.86V1110.74M143.4 1110.74H151" stroke="#6A6A6A" stroke-width="1" fill="none"/>
<rect x="162.4" y="1136.79" width="15.2" height="61.21" fill="#EBC8F7"/>
<path d="M170 1136.79V1108.01M166.2 1108.01H173.8" stroke="#E6BDF2" stroke-width="1" fill="none"/>
<rect x="185.4" y="1153.76" width="15.2" height="44.24" fill="#B14FD8"/>
<path d="M193 1153.76V1142.55M189.2 1142.55H196.8" stroke="#A847D0" stroke-width="1" fill="none"/>
<rect x="208" y="1188" width="15.2" height="10" fill="#00BD00"/>
<path d="M215.6 1188V1187.09M211.8 1187.09H219.4" stroke="#19B819" stroke-width="1" fill="none"/>
<path d="M109 1076V1198M104.5 1198H231.4M104.5 1198H109M104.5 1167.7H109M104.5 1137.4H109M104.5 1107.1H109M104.5 1076.8H109M124.5 1198V1203.5M147.2 1198V1203.5M170 1198V1203.5M193 1198V1203.5M215.6 1198V1203.5" stroke="#000" stroke-width="1.6" fill="none"/>
<text x="102.7" y="1201.33" font-size="9.8" text-anchor="end">0</text>
<text x="102.7" y="1171.03" font-size="9.8" text-anchor="end">1</text>
<text x="102.7" y="1140.73" font-size="9.8" text-anchor="end">2</text>
<text x="102.7" y="1110.43" font-size="9.8" text-anchor="end">3</text>
<text x="102.7" y="1080.13" font-size="9.8" text-anchor="end">4</text>
<path d="M123.5 1082.8V1076.6H145.2V1082.8" fill="none" stroke="#000" stroke-width="1.75" stroke-linecap="butt" stroke-linejoin="miter"/>
<g stroke="#000" stroke-width="1.3" stroke-linecap="round"><path d="M130.6 1065.56V1070.24M128.57 1066.73L132.63 1069.07M128.57 1069.07L132.63 1066.73"/><circle cx="130.6" cy="1067.9" r="0.89" stroke="none"/><path d="M138 1065.56V1070.24M135.97 1066.73L140.03 1069.07M135.97 1069.07L140.03 1066.73"/><circle cx="138" cy="1067.9" r="0.89" stroke="none"/></g>
<path d="M147.1 1082.8V1076.6H192.6V1082.8" fill="none" stroke="#000" stroke-width="1.75" stroke-linecap="butt" stroke-linejoin="miter"/>
<g stroke="#000" stroke-width="1.3" stroke-linecap="round"><path d="M167.2 1065.56V1070.24M165.17 1066.73L169.23 1069.07M165.17 1069.07L169.23 1066.73"/><circle cx="167.2" cy="1067.9" r="0.89" stroke="none"/><path d="M174.6 1065.56V1070.24M172.57 1066.73L176.63 1069.07M172.57 1069.07L176.63 1066.73"/><circle cx="174.6" cy="1067.9" r="0.89" stroke="none"/></g>
<path d="M148.4 1066.6V1060.4H218.3V1066.6" fill="none" stroke="#000" stroke-width="1.75" stroke-linecap="butt" stroke-linejoin="miter"/>
<g stroke="#000" stroke-width="1.3" stroke-linecap="round"><path d="M179.4 1048.76V1053.44M177.37 1049.93L181.43 1052.27M177.37 1052.27L181.43 1049.93"/><circle cx="179.4" cy="1051.1" r="0.89" stroke="none"/><path d="M186.8 1048.76V1053.44M184.77 1049.93L188.83 1052.27M184.77 1052.27L188.83 1049.93"/><circle cx="186.8" cy="1051.1" r="0.89" stroke="none"/></g>
<text font-size="10" text-anchor="middle" transform="translate(76.3 1136.3) rotate(-90)" dy="0.33em">Relative mRNA levels</text>
<text font-size="10" text-anchor="middle" transform="translate(89.3 1136.3) rotate(-90)" dy="0.33em">of <tspan font-style="italic">α-Sma</tspan></text>
<text x="94.8" y="1214.2" font-size="10.5" text-anchor="middle">CCl<tspan font-size="6.3" dy="2.31">4</tspan></text>
<text x="94.8" y="1225.9" font-size="10.5" text-anchor="middle">SI</text>
<text x="94.8" y="1236.8" font-size="10.5" text-anchor="middle">VD</text>
<text x="127.5" y="1213.3" font-size="10.5" text-anchor="middle">-</text>
<text x="147.7" y="1213.3" font-size="10.5" text-anchor="middle">+</text>
<text x="170" y="1213.3" font-size="10.5" text-anchor="middle">+</text>
<text x="193" y="1213.3" font-size="10.5" text-anchor="middle">+</text>
<text x="215.6" y="1213.3" font-size="10.5" text-anchor="middle">+</text>
<text x="127.5" y="1225" font-size="10.5" text-anchor="middle">-</text>
<text x="147.7" y="1225" font-size="10.5" text-anchor="middle">-</text>
<text x="170" y="1225" font-size="10.5" text-anchor="middle">L</text>
<text x="193" y="1225" font-size="10.5" text-anchor="middle">H</text>
<text x="215.6" y="1225" font-size="10.5" text-anchor="middle">-</text>
<text x="127.5" y="1235" font-size="10.5" text-anchor="middle">-</text>
<text x="147.7" y="1235" font-size="10.5" text-anchor="middle">-</text>
<text x="170" y="1235" font-size="10.5" text-anchor="middle">-</text>
<text x="193" y="1235" font-size="10.5" text-anchor="middle">-</text>
<text x="215.6" y="1235" font-size="10.5" text-anchor="middle">+</text>
<rect x="346.55" y="1195.07" width="15.3" height="4.83" fill="#E9E3C6"/>
<path d="M354.2 1195.07V1194.58M350.38 1194.58H358.02" stroke="#E4DDB8" stroke-width="1" fill="none"/>
<rect x="369.55" y="1107.13" width="15.3" height="92.77" fill="#5F5F5F"/>
<path d="M377.2 1107.13V1101.81M373.38 1101.81H381.02" stroke="#6A6A6A" stroke-width="1" fill="none"/>
<rect x="392.15" y="1169.46" width="15.3" height="30.44" fill="#EBC8F7"/>
<path d="M399.8 1169.46V1166.32M395.98 1166.32H403.62" stroke="#E6BDF2" stroke-width="1" fill="none"/>
<rect x="414.85" y="1195.07" width="15.3" height="4.83" fill="#B14FD8"/>
<path d="M422.5 1195.07V1193.28M418.68 1193.28H426.32" stroke="#A847D0" stroke-width="1" fill="none"/>
<rect x="437.75" y="1170.91" width="15.3" height="28.99" fill="#00BD00"/>
<path d="M445.4 1170.91V1168.49M441.57 1168.49H449.22" stroke="#19B819" stroke-width="1" fill="none"/>
<path d="M338.1 1078.3V1199.9M333.6 1199.9H461.4M333.6 1199.9H338.1M333.6 1175.74H338.1M333.6 1151.58H338.1M333.6 1127.42H338.1M333.6 1103.26H338.1M333.6 1079.1H338.1M354.2 1199.9V1205.4M377.2 1199.9V1205.4M399.8 1199.9V1205.4M422.5 1199.9V1205.4M445.4 1199.9V1205.4" stroke="#000" stroke-width="1.6" fill="none"/>
<text x="331.8" y="1203.23" font-size="9.8" text-anchor="end">0</text>
<text x="331.8" y="1179.07" font-size="9.8" text-anchor="end">5</text>
<text x="331.8" y="1154.91" font-size="9.8" text-anchor="end">10</text>
<text x="331.8" y="1130.75" font-size="9.8" text-anchor="end">15</text>
<text x="331.8" y="1106.59" font-size="9.8" text-anchor="end">20</text>
<text x="331.8" y="1082.43" font-size="9.8" text-anchor="end">25</text>
<path d="M353.8 1083.6V1078.2H374.2V1083.6" fill="none" stroke="#000" stroke-width="1.75" stroke-linecap="butt" stroke-linejoin="miter"/>
<g stroke="#000" stroke-width="1.3" stroke-linecap="round"><path d="M360.6 1066.81V1071.39M358.62 1067.95L362.58 1070.24M358.62 1070.24L362.58 1067.95"/><circle cx="360.6" cy="1069.1" r="0.87" stroke="none"/><path d="M367.8 1066.81V1071.39M365.82 1067.95L369.78 1070.24M365.82 1070.24L369.78 1067.95"/><circle cx="367.8" cy="1069.1" r="0.87" stroke="none"/></g>
<path d="M376.5 1083.6V1078.2H399.5V1083.6" fill="none" stroke="#000" stroke-width="1.75" stroke-linecap="butt" stroke-linejoin="miter"/>
<g stroke="#000" stroke-width="1.3" stroke-linecap="round"><path d="M384.6 1066.81V1071.39M382.62 1067.95L386.58 1070.24M382.62 1070.24L386.58 1067.95"/><circle cx="384.6" cy="1069.1" r="0.87" stroke="none"/><path d="M391.8 1066.81V1071.39M389.82 1067.95L393.78 1070.24M389.82 1070.24L393.78 1067.95"/><circle cx="391.8" cy="1069.1" r="0.87" stroke="none"/></g>
<path d="M375.6 1066V1061.2H422.6V1066" fill="none" stroke="#000" stroke-width="1.75" stroke-linecap="butt" stroke-linejoin="miter"/>
<g stroke="#000" stroke-width="1.3" stroke-linecap="round"><path d="M395.4 1049.71V1054.29M393.42 1050.86L397.38 1053.14M393.42 1053.14L397.38 1050.86"/><circle cx="395.4" cy="1052" r="0.87" stroke="none"/><path d="M402.6 1049.71V1054.29M400.62 1050.86L404.58 1053.14M400.62 1053.14L404.58 1050.86"/><circle cx="402.6" cy="1052" r="0.87" stroke="none"/></g>
<path d="M374.2 1049.8V1044.7H445V1049.8" fill="none" stroke="#000" stroke-width="1.75" stroke-linecap="butt" stroke-linejoin="miter"/>
<g stroke="#000" stroke-width="1.3" stroke-linecap="round"><path d="M406.1 1033.11V1037.69M404.12 1034.26L408.08 1036.55M404.12 1036.55L408.08 1034.26"/><circle cx="406.1" cy="1035.4" r="0.87" stroke="none"/><path d="M413.3 1033.11V1037.69M411.32 1034.26L415.28 1036.55M411.32 1036.55L415.28 1034.26"/><circle cx="413.3" cy="1035.4" r="0.87" stroke="none"/></g>
<text font-size="9.9" text-anchor="middle" transform="translate(289.8 1138.8) rotate(-90)" dy="0.33em">Relative mRNA levels</text>
<text font-size="9.9" text-anchor="middle" transform="translate(302 1139.2) rotate(-90)" dy="0.33em">of <tspan font-style="italic">Col1a1</tspan></text>
<text x="323.7" y="1214.6" font-size="10.5" text-anchor="middle">CCl<tspan font-size="6.3" dy="2.31">4</tspan></text>
<text x="323.7" y="1226.9" font-size="10.5" text-anchor="middle">SI</text>
<text x="323.7" y="1238.7" font-size="10.5" text-anchor="middle">VD</text>
<text x="356.7" y="1214.5" font-size="10.5" text-anchor="middle">-</text>
<text x="377.9" y="1214.5" font-size="10.5" text-anchor="middle">+</text>
<text x="399.8" y="1214.5" font-size="10.5" text-anchor="middle">+</text>
<text x="423.2" y="1214.5" font-size="10.5" text-anchor="middle">+</text>
<text x="446.2" y="1214.5" font-size="10.5" text-anchor="middle">+</text>
<text x="356.7" y="1227" font-size="10.5" text-anchor="middle">-</text>
<text x="377.9" y="1227" font-size="10.5" text-anchor="middle">-</text>
<text x="399.8" y="1227" font-size="10.5" text-anchor="middle">L</text>
<text x="423.2" y="1227" font-size="10.5" text-anchor="middle">H</text>
<text x="446.2" y="1227" font-size="10.5" text-anchor="middle">-</text>
<text x="356.7" y="1236.8" font-size="10.5" text-anchor="middle">-</text>
<text x="377.9" y="1236.8" font-size="10.5" text-anchor="middle">-</text>
<text x="399.8" y="1236.8" font-size="10.5" text-anchor="middle">-</text>
<text x="423.2" y="1236.8" font-size="10.5" text-anchor="middle">-</text>
<text x="446.2" y="1236.8" font-size="10.5" text-anchor="middle">+</text>
<rect x="563.8" y="1177.2" width="15" height="20.3" fill="#E9E3C6"/>
<path d="M571.3 1177.2V1174.18M567.55 1174.18H575.05" stroke="#E4DDB8" stroke-width="1" fill="none"/>
<rect x="586.9" y="1106.05" width="15" height="91.45" fill="#5F5F5F"/>
<path d="M594.4 1106.05V1090.17M590.65 1090.17H598.15" stroke="#6A6A6A" stroke-width="1" fill="none"/>
<rect x="609.5" y="1133.18" width="15" height="64.32" fill="#EBC8F7"/>
<path d="M617 1133.18V1124.34M613.25 1124.34H620.75" stroke="#E6BDF2" stroke-width="1" fill="none"/>
<rect x="632.3" y="1151.67" width="15" height="45.83" fill="#B14FD8"/>
<path d="M639.8 1151.67V1148.05M636.05 1148.05H643.55" stroke="#A847D0" stroke-width="1" fill="none"/>
<rect x="654.9" y="1131.97" width="15" height="65.53" fill="#00BD00"/>
<path d="M662.4 1131.97V1122.12M658.65 1122.12H666.15" stroke="#19B819" stroke-width="1" fill="none"/>
<path d="M556.4 1076.1V1197.5M551.9 1197.5H677.7M551.9 1197.5H556.4M551.9 1157.3H556.4M551.9 1117.1H556.4M551.9 1076.9H556.4M571.3 1197.5V1203M594.4 1197.5V1203M617 1197.5V1203M639.8 1197.5V1203M662.4 1197.5V1203" stroke="#000" stroke-width="1.6" fill="none"/>
<text x="550.1" y="1200.83" font-size="9.8" text-anchor="end">0</text>
<text x="550.1" y="1160.63" font-size="9.8" text-anchor="end">2</text>
<text x="550.1" y="1120.43" font-size="9.8" text-anchor="end">4</text>
<text x="550.1" y="1080.23" font-size="9.8" text-anchor="end">6</text>
<path d="M568.1 1082.3V1076.9H590.6V1082.3" fill="none" stroke="#000" stroke-width="1.75" stroke-linecap="butt" stroke-linejoin="miter"/>
<g stroke="#000" stroke-width="1.3" stroke-linecap="round"><path d="M575.6 1065.01V1069.59M573.62 1066.15L577.58 1068.44M573.62 1068.44L577.58 1066.15"/><circle cx="575.6" cy="1067.3" r="0.87" stroke="none"/><path d="M582.8 1065.01V1069.59M580.82 1066.15L584.78 1068.44M580.82 1068.44L584.78 1066.15"/><circle cx="582.8" cy="1067.3" r="0.87" stroke="none"/></g>
<path d="M593.4 1082.3V1076.9H616.5V1082.3" fill="none" stroke="#000" stroke-width="1.75" stroke-linecap="butt" stroke-linejoin="miter"/>
<g stroke="#000" stroke-width="1.3" stroke-linecap="round"><path d="M601.3 1065.01V1069.59M599.32 1066.15L603.28 1068.44M599.32 1068.44L603.28 1066.15"/><circle cx="601.3" cy="1067.3" r="0.87" stroke="none"/><path d="M608.5 1065.01V1069.59M606.52 1066.15L610.48 1068.44M606.52 1068.44L610.48 1066.15"/><circle cx="608.5" cy="1067.3" r="0.87" stroke="none"/></g>
<path d="M591.5 1065.5V1060.6H639V1065.5" fill="none" stroke="#000" stroke-width="1.75" stroke-linecap="butt" stroke-linejoin="miter"/>
<g stroke="#000" stroke-width="1.3" stroke-linecap="round"><path d="M611.7 1049.31V1053.89M609.72 1050.45L613.68 1052.74M609.72 1052.74L613.68 1050.45"/><circle cx="611.7" cy="1051.6" r="0.87" stroke="none"/><path d="M618.9 1049.31V1053.89M616.92 1050.45L620.88 1052.74M616.92 1052.74L620.88 1050.45"/><circle cx="618.9" cy="1051.6" r="0.87" stroke="none"/></g>
<path d="M591.5 1049.3V1043.8H662V1049.3" fill="none" stroke="#000" stroke-width="1.75" stroke-linecap="butt" stroke-linejoin="miter"/>
<g stroke="#000" stroke-width="1.3" stroke-linecap="round"><path d="M623 1033.11V1037.69M621.02 1034.26L624.98 1036.55M621.02 1036.55L624.98 1034.26"/><circle cx="623" cy="1035.4" r="0.87" stroke="none"/><path d="M630.2 1033.11V1037.69M628.22 1034.26L632.18 1036.55M628.22 1036.55L632.18 1034.26"/><circle cx="630.2" cy="1035.4" r="0.87" stroke="none"/></g>
<text font-size="10" text-anchor="middle" transform="translate(511.6 1136.9) rotate(-90)" dy="0.33em">Relative mRNA levels</text>
<text font-size="10" text-anchor="middle" transform="translate(524 1137.3) rotate(-90)" dy="0.33em">of <tspan font-style="italic">Timp1</tspan></text>
<text x="541.6" y="1213.4" font-size="10.5" text-anchor="middle">CCl<tspan font-size="6.3" dy="2.31">4</tspan></text>
<text x="541.6" y="1225.7" font-size="10.5" text-anchor="middle">SI</text>
<text x="541.6" y="1236.2" font-size="10.5" text-anchor="middle">VD</text>
<text x="573.5" y="1212.8" font-size="10.5" text-anchor="middle">-</text>
<text x="594.4" y="1212.8" font-size="10.5" text-anchor="middle">+</text>
<text x="617" y="1212.8" font-size="10.5" text-anchor="middle">+</text>
<text x="639.8" y="1212.8" font-size="10.5" text-anchor="middle">+</text>
<text x="663" y="1212.8" font-size="10.5" text-anchor="middle">+</text>
<text x="573.5" y="1225" font-size="10.5" text-anchor="middle">-</text>
<text x="594.4" y="1225" font-size="10.5" text-anchor="middle">-</text>
<text x="617" y="1225" font-size="10.5" text-anchor="middle">L</text>
<text x="639.8" y="1225" font-size="10.5" text-anchor="middle">H</text>
<text x="663" y="1225" font-size="10.5" text-anchor="middle">-</text>
<text x="573.5" y="1234.8" font-size="10.5" text-anchor="middle">-</text>
<text x="594.4" y="1234.8" font-size="10.5" text-anchor="middle">-</text>
<text x="617" y="1234.8" font-size="10.5" text-anchor="middle">-</text>
<text x="639.8" y="1234.8" font-size="10.5" text-anchor="middle">-</text>
<text x="663" y="1234.8" font-size="10.5" text-anchor="middle">+</text>
<clipPath id="pc0"><rect width="105" height="105.30000000000001"/></clipPath>
<g transform="translate(61 242.5)" clip-path="url(#pc0)">
<rect width="105" height="105.30000000000001" fill="url(#bg0)"/>
<g transform="scale(0.13548)">
<path d="M55.0 22.0C68.3 12.8 117.5 27.8 150.0 35.0C182.5 42.2 220.0 53.3 250.0 65.0C280.0 76.7 309.2 89.2 330.0 105.0C350.8 120.8 364.7 137.5 375.0 160.0C385.3 182.5 392.0 216.7 392.0 240.0C392.0 263.3 375.3 276.7 375.0 300.0C374.7 323.3 382.5 356.7 390.0 380.0C397.5 403.3 412.5 418.3 420.0 440.0C427.5 461.7 435.0 486.7 435.0 510.0C435.0 533.3 430.8 556.7 420.0 580.0C409.2 603.3 390.0 628.3 370.0 650.0C350.0 671.7 323.3 694.2 300.0 710.0C276.7 725.8 250.8 739.7 230.0 745.0C209.2 750.3 189.2 751.2 175.0 742.0C160.8 732.8 155.8 713.7 145.0 690.0C134.2 666.3 120.8 631.7 110.0 600.0C99.2 568.3 86.3 530.0 80.0 500.0C73.7 470.0 69.5 446.7 72.0 420.0C74.5 393.3 87.0 361.7 95.0 340.0C103.0 318.3 114.5 308.3 120.0 290.0C125.5 271.7 131.3 251.7 128.0 230.0C124.7 208.3 109.7 183.3 100.0 160.0C90.3 136.7 77.5 113.0 70.0 90.0C62.5 67.0 41.7 31.2 55.0 22.0Z" fill="#000" opacity=".14" transform="translate(12 16)" filter="url(#psh)"/>
<path d="M370.0 165.0C381.7 148.3 408.3 156.7 430.0 160.0C451.7 163.3 480.8 173.3 500.0 185.0C519.2 196.7 535.8 214.2 545.0 230.0C554.2 245.8 557.5 263.3 555.0 280.0C552.5 296.7 542.5 313.3 530.0 330.0C517.5 346.7 496.7 366.7 480.0 380.0C463.3 393.3 443.3 408.3 430.0 410.0C416.7 411.7 409.2 403.3 400.0 390.0C390.8 376.7 381.7 351.7 375.0 330.0C368.3 308.3 360.8 287.5 360.0 260.0C359.2 232.5 358.3 181.7 370.0 165.0Z" fill="#000" opacity=".14" transform="translate(12 16)" filter="url(#psh)"/>
<path d="M480.0 150.0C490.0 142.5 535.0 140.0 560.0 140.0C585.0 140.0 608.3 140.8 630.0 150.0C651.7 159.2 674.7 176.7 690.0 195.0C705.3 213.3 716.2 237.5 722.0 260.0C727.8 282.5 728.7 310.0 725.0 330.0C721.3 350.0 712.5 365.0 700.0 380.0C687.5 395.0 670.0 409.2 650.0 420.0C630.0 430.8 601.7 440.8 580.0 445.0C558.3 449.2 541.7 449.2 520.0 445.0C498.3 440.8 465.0 425.8 450.0 420.0C435.0 414.2 425.0 416.7 430.0 410.0C435.0 403.3 463.3 393.3 480.0 380.0C496.7 366.7 517.5 346.7 530.0 330.0C542.5 313.3 552.5 296.7 555.0 280.0C557.5 263.3 554.2 245.8 545.0 230.0C535.8 214.2 510.8 198.3 500.0 185.0C489.2 171.7 470.0 157.5 480.0 150.0Z" fill="#000" opacity=".14" transform="translate(12 16)" filter="url(#psh)"/>
<path d="M420.0 470.0C431.7 455.0 455.0 455.0 480.0 450.0C505.0 445.0 541.7 443.3 570.0 440.0C598.3 436.7 628.3 430.0 650.0 430.0C671.7 430.0 688.3 428.3 700.0 440.0C711.7 451.7 714.2 476.7 720.0 500.0C725.8 523.3 735.0 556.7 735.0 580.0C735.0 603.3 730.8 623.3 720.0 640.0C709.2 656.7 690.0 671.7 670.0 680.0C650.0 688.3 623.3 691.7 600.0 690.0C576.7 688.3 551.7 678.3 530.0 670.0C508.3 661.7 488.3 651.7 470.0 640.0C451.7 628.3 430.0 616.7 420.0 600.0C410.0 583.3 410.0 561.7 410.0 540.0C410.0 518.3 408.3 485.0 420.0 470.0Z" fill="#000" opacity=".14" transform="translate(12 16)" filter="url(#psh)"/>
<path d="M71.0 38.0C93.0 31.7 164.5 44.2 208.0 56.0C251.5 67.8 303.3 91.7 332.0 109.0C360.7 126.3 357.8 151.5 380.0 160.0C402.2 168.5 439.7 161.7 465.0 160.0C490.3 158.3 508.2 150.0 532.0 150.0C555.8 150.0 584.3 150.7 608.0 160.0C631.7 169.3 657.3 185.8 674.0 206.0C690.7 226.2 703.2 255.8 708.0 281.0C712.8 306.2 708.7 338.2 703.0 357.0C697.3 375.8 674.0 377.0 674.0 394.0C674.0 411.0 695.8 434.0 703.0 459.0C710.2 484.0 720.2 519.0 717.0 544.0C713.8 569.0 705.3 590.3 684.0 609.0C662.7 627.7 623.8 651.3 589.0 656.0C554.2 660.7 503.5 649.5 475.0 637.0C446.5 624.5 432.3 584.2 418.0 581.0C403.7 577.8 403.3 602.3 389.0 618.0C374.7 633.7 354.2 659.3 332.0 675.0C309.8 690.7 278.2 704.3 256.0 712.0C233.8 719.7 214.8 727.2 199.0 721.0C183.2 714.8 175.2 698.3 161.0 675.0C146.8 651.7 126.7 615.3 114.0 581.0C101.3 546.7 88.2 503.3 85.0 469.0C81.8 434.7 88.7 403.2 95.0 375.0C101.3 346.8 116.7 323.3 123.0 300.0C129.3 276.7 136.2 258.3 133.0 235.0C129.8 211.7 113.5 183.5 104.0 160.0C94.5 136.5 81.5 114.3 76.0 94.0C70.5 73.7 49.0 44.3 71.0 38.0Z" fill="#5E2521"/>
<path d="M55.0 22.0C68.3 12.8 117.5 27.8 150.0 35.0C182.5 42.2 220.0 53.3 250.0 65.0C280.0 76.7 309.2 89.2 330.0 105.0C350.8 120.8 364.7 137.5 375.0 160.0C385.3 182.5 392.0 216.7 392.0 240.0C392.0 263.3 375.3 276.7 375.0 300.0C374.7 323.3 382.5 356.7 390.0 380.0C397.5 403.3 412.5 418.3 420.0 440.0C427.5 461.7 435.0 486.7 435.0 510.0C435.0 533.3 430.8 556.7 420.0 580.0C409.2 603.3 390.0 628.3 370.0 650.0C350.0 671.7 323.3 694.2 300.0 710.0C276.7 725.8 250.8 739.7 230.0 745.0C209.2 750.3 189.2 751.2 175.0 742.0C160.8 732.8 155.8 713.7 145.0 690.0C134.2 666.3 120.8 631.7 110.0 600.0C99.2 568.3 86.3 530.0 80.0 500.0C73.7 470.0 69.5 446.7 72.0 420.0C74.5 393.3 87.0 361.7 95.0 340.0C103.0 318.3 114.5 308.3 120.0 290.0C125.5 271.7 131.3 251.7 128.0 230.0C124.7 208.3 109.7 183.3 100.0 160.0C90.3 136.7 77.5 113.0 70.0 90.0C62.5 67.0 41.7 31.2 55.0 22.0Z" fill="url(#lg0_0)" stroke="#5E2521" stroke-width="2.5" stroke-linejoin="round" stroke-opacity=".7"/>
<path d="M370.0 165.0C381.7 148.3 408.3 156.7 430.0 160.0C451.7 163.3 480.8 173.3 500.0 185.0C519.2 196.7 535.8 214.2 545.0 230.0C554.2 245.8 557.5 263.3 555.0 280.0C552.5 296.7 542.5 313.3 530.0 330.0C517.5 346.7 496.7 366.7 480.0 380.0C463.3 393.3 443.3 408.3 430.0 410.0C416.7 411.7 409.2 403.3 400.0 390.0C390.8 376.7 381.7 351.7 375.0 330.0C368.3 308.3 360.8 287.5 360.0 260.0C359.2 232.5 358.3 181.7 370.0 165.0Z" fill="url(#lg0_1)" stroke="#662823" stroke-width="2.5" stroke-linejoin="round" stroke-opacity=".7"/>
<path d="M480.0 150.0C490.0 142.5 535.0 140.0 560.0 140.0C585.0 140.0 608.3 140.8 630.0 150.0C651.7 159.2 674.7 176.7 690.0 195.0C705.3 213.3 716.2 237.5 722.0 260.0C727.8 282.5 728.7 310.0 725.0 330.0C721.3 350.0 712.5 365.0 700.0 380.0C687.5 395.0 670.0 409.2 650.0 420.0C630.0 430.8 601.7 440.8 580.0 445.0C558.3 449.2 541.7 449.2 520.0 445.0C498.3 440.8 465.0 425.8 450.0 420.0C435.0 414.2 425.0 416.7 430.0 410.0C435.0 403.3 463.3 393.3 480.0 380.0C496.7 366.7 517.5 346.7 530.0 330.0C542.5 313.3 552.5 296.7 555.0 280.0C557.5 263.3 554.2 245.8 545.0 230.0C535.8 214.2 510.8 198.3 500.0 185.0C489.2 171.7 470.0 157.5 480.0 150.0Z" fill="url(#lg0_2)" stroke="#6D2C25" stroke-width="2.5" stroke-linejoin="round" stroke-opacity=".7"/>
<path d="M420.0 470.0C431.7 455.0 455.0 455.0 480.0 450.0C505.0 445.0 541.7 443.3 570.0 440.0C598.3 436.7 628.3 430.0 650.0 430.0C671.7 430.0 688.3 428.3 700.0 440.0C711.7 451.7 714.2 476.7 720.0 500.0C725.8 523.3 735.0 556.7 735.0 580.0C735.0 603.3 730.8 623.3 720.0 640.0C709.2 656.7 690.0 671.7 670.0 680.0C650.0 688.3 623.3 691.7 600.0 690.0C576.7 688.3 551.7 678.3 530.0 670.0C508.3 661.7 488.3 651.7 470.0 640.0C451.7 628.3 430.0 616.7 420.0 600.0C410.0 583.3 410.0 561.7 410.0 540.0C410.0 518.3 408.3 485.0 420.0 470.0Z" fill="url(#lg0_3)" stroke="#622721" stroke-width="2.5" stroke-linejoin="round" stroke-opacity=".7"/>
<ellipse cx="520" cy="495" rx="75" ry="42" fill="#3A1810" opacity=".85" filter="url(#pb1)"/>
 <ellipse cx="495" cy="505" rx="35" ry="24" fill="#C8A040" opacity=".85" filter="url(#pb1)"/>
 <path d="M120 180 C140 230 130 300 100 360" stroke="#5A1E18" stroke-width="25" fill="none" opacity=".35" filter="url(#pb2)"/>
 <g fill="#fff" filter="url(#pb1)" opacity=".92">
 <path d="M295 235 C320 240 360 255 380 275 C350 280 320 270 295 250 Z"/>
 <ellipse cx="295" cy="295" rx="14" ry="8"/>
 <ellipse cx="520" cy="265" rx="30" ry="8" transform="rotate(-20 520 265)"/>
 <ellipse cx="685" cy="240" rx="10" ry="28" transform="rotate(-20 685 240)"/>
 <ellipse cx="625" cy="478" rx="22" ry="9"/>
 <ellipse cx="250" cy="175" rx="8" ry="6"/>
 </g>
</g></g>
<clipPath id="pc1"><rect width="105" height="105.30000000000001"/></clipPath>
<g transform="translate(184 242.5)" clip-path="url(#pc1)">
<rect width="105" height="105.30000000000001" fill="url(#bg1)"/>
<g transform="scale(0.13548)">
<path d="M200.0 30.0C213.3 24.2 238.3 20.8 260.0 25.0C281.7 29.2 301.7 47.5 330.0 55.0C358.3 62.5 405.0 60.8 430.0 70.0C455.0 79.2 470.0 90.0 480.0 110.0C490.0 130.0 490.0 161.7 490.0 190.0C490.0 218.3 483.3 248.3 480.0 280.0C476.7 311.7 475.0 348.3 470.0 380.0C465.0 411.7 460.0 443.3 450.0 470.0C440.0 496.7 430.0 523.3 410.0 540.0C390.0 556.7 365.0 570.0 330.0 570.0C295.0 570.0 235.0 555.0 200.0 540.0C165.0 525.0 139.2 503.3 120.0 480.0C100.8 456.7 93.3 430.0 85.0 400.0C76.7 370.0 71.7 330.0 70.0 300.0C68.3 270.0 68.3 241.7 75.0 220.0C81.7 198.3 95.8 186.7 110.0 170.0C124.2 153.3 148.3 138.3 160.0 120.0C171.7 101.7 173.3 75.0 180.0 60.0C186.7 45.0 186.7 35.8 200.0 30.0Z" fill="#000" opacity=".14" transform="translate(12 16)" filter="url(#psh)"/>
<path d="M520.0 140.0C536.7 128.3 571.7 128.3 600.0 130.0C628.3 131.7 673.3 138.3 690.0 150.0C706.7 161.7 691.7 181.7 700.0 200.0C708.3 218.3 730.0 230.0 740.0 260.0C750.0 290.0 757.5 343.3 760.0 380.0C762.5 416.7 761.7 450.0 755.0 480.0C748.3 510.0 730.8 533.3 720.0 560.0C709.2 586.7 706.7 616.7 690.0 640.0C673.3 663.3 645.0 683.3 620.0 700.0C595.0 716.7 568.3 735.0 540.0 740.0C511.7 745.0 475.0 740.0 450.0 730.0C425.0 720.0 400.0 698.3 390.0 680.0C380.0 661.7 386.7 640.0 390.0 620.0C393.3 600.0 400.0 585.0 410.0 560.0C420.0 535.0 440.0 500.0 450.0 470.0C460.0 440.0 465.0 411.7 470.0 380.0C475.0 348.3 475.0 310.0 480.0 280.0C485.0 250.0 493.3 223.3 500.0 200.0C506.7 176.7 503.3 151.7 520.0 140.0Z" fill="#000" opacity=".14" transform="translate(12 16)" filter="url(#psh)"/>
<path d="M200.0 30.0C213.3 24.2 238.3 20.8 260.0 25.0C281.7 29.2 301.7 47.5 330.0 55.0C358.3 62.5 405.0 60.8 430.0 70.0C455.0 79.2 470.0 90.0 480.0 110.0C490.0 130.0 490.0 161.7 490.0 190.0C490.0 218.3 483.3 248.3 480.0 280.0C476.7 311.7 475.0 348.3 470.0 380.0C465.0 411.7 460.0 443.3 450.0 470.0C440.0 496.7 430.0 523.3 410.0 540.0C390.0 556.7 365.0 570.0 330.0 570.0C295.0 570.0 235.0 555.0 200.0 540.0C165.0 525.0 139.2 503.3 120.0 480.0C100.8 456.7 93.3 430.0 85.0 400.0C76.7 370.0 71.7 330.0 70.0 300.0C68.3 270.0 68.3 241.7 75.0 220.0C81.7 198.3 95.8 186.7 110.0 170.0C124.2 153.3 148.3 138.3 160.0 120.0C171.7 101.7 173.3 75.0 180.0 60.0C186.7 45.0 186.7 35.8 200.0 30.0Z" fill="url(#lg1_0)" stroke="#612D23" stroke-width="2.5" stroke-linejoin="round" stroke-opacity=".7"/>
<path d="M520.0 140.0C536.7 128.3 571.7 128.3 600.0 130.0C628.3 131.7 673.3 138.3 690.0 150.0C706.7 161.7 691.7 181.7 700.0 200.0C708.3 218.3 730.0 230.0 740.0 260.0C750.0 290.0 757.5 343.3 760.0 380.0C762.5 416.7 761.7 450.0 755.0 480.0C748.3 510.0 730.8 533.3 720.0 560.0C709.2 586.7 706.7 616.7 690.0 640.0C673.3 663.3 645.0 683.3 620.0 700.0C595.0 716.7 568.3 735.0 540.0 740.0C511.7 745.0 475.0 740.0 450.0 730.0C425.0 720.0 400.0 698.3 390.0 680.0C380.0 661.7 386.7 640.0 390.0 620.0C393.3 600.0 400.0 585.0 410.0 560.0C420.0 535.0 440.0 500.0 450.0 470.0C460.0 440.0 465.0 411.7 470.0 380.0C475.0 348.3 475.0 310.0 480.0 280.0C485.0 250.0 493.3 223.3 500.0 200.0C506.7 176.7 503.3 151.7 520.0 140.0Z" fill="url(#lg1_1)" stroke="#632F25" stroke-width="2.5" stroke-linejoin="round" stroke-opacity=".7"/>
<path d="M90 380 C180 395 300 405 450 420" stroke="#4E2016" stroke-width="10" fill="none" opacity=".45" filter="url(#pb1)"/>
 <path d="M170 110 C250 140 380 150 470 150" stroke="#5A2418" stroke-width="8" fill="none" opacity=".35" filter="url(#pb1)"/>
 <path d="M485 200 C475 300 465 400 440 520" stroke="#3A140E" stroke-width="12" fill="none" opacity=".55" filter="url(#pb1)"/>
 <g fill="#F4E8E4" filter="url(#pb1)" opacity=".85">
 <ellipse cx="340" cy="80" rx="25" ry="9"/>
 <ellipse cx="430" cy="410" rx="14" ry="10"/>
 <ellipse cx="530" cy="415" rx="8" ry="8"/>
 <ellipse cx="555" cy="480" rx="8" ry="8"/>
 <ellipse cx="270" cy="150" rx="20" ry="6"/>
 <ellipse cx="385" cy="440" rx="6" ry="6"/>
 </g>
 <ellipse cx="735" cy="115" rx="35" ry="12" fill="#C8A090" opacity=".5" filter="url(#pb1)"/>
</g></g>
<clipPath id="pc2"><rect width="105" height="105.30000000000001"/></clipPath>
<g transform="translate(307 242.5)" clip-path="url(#pc2)">
<rect width="105" height="105.30000000000001" fill="url(#bg2)"/>
<g transform="scale(0.13548)">
<path d="M300.0 190.0C315.0 189.2 346.7 188.3 360.0 200.0C373.3 211.7 380.0 236.7 380.0 260.0C380.0 283.3 365.8 313.3 360.0 340.0C354.2 366.7 350.0 395.0 345.0 420.0C340.0 445.0 337.5 468.3 330.0 490.0C322.5 511.7 313.3 535.0 300.0 550.0C286.7 565.0 266.7 575.0 250.0 580.0C233.3 585.0 215.0 585.0 200.0 580.0C185.0 575.0 170.8 566.7 160.0 550.0C149.2 533.3 140.8 503.3 135.0 480.0C129.2 456.7 124.2 433.3 125.0 410.0C125.8 386.7 132.5 360.0 140.0 340.0C147.5 320.0 156.7 306.7 170.0 290.0C183.3 273.3 203.3 254.2 220.0 240.0C236.7 225.8 256.7 213.3 270.0 205.0C283.3 196.7 285.0 190.8 300.0 190.0Z" fill="#000" opacity=".14" transform="translate(12 16)" filter="url(#psh)"/>
<path d="M330.0 430.0C341.7 420.0 358.3 428.3 370.0 440.0C381.7 451.7 395.0 476.7 400.0 500.0C405.0 523.3 401.7 555.0 400.0 580.0C398.3 605.0 396.7 631.7 390.0 650.0C383.3 668.3 370.0 683.3 360.0 690.0C350.0 696.7 340.0 696.7 330.0 690.0C320.0 683.3 306.7 668.3 300.0 650.0C293.3 631.7 290.0 605.0 290.0 580.0C290.0 555.0 293.3 525.0 300.0 500.0C306.7 475.0 318.3 440.0 330.0 430.0Z" fill="#000" opacity=".14" transform="translate(12 16)" filter="url(#psh)"/>
<path d="M400.0 440.0C415.0 423.3 455.8 438.3 480.0 440.0C504.2 441.7 529.2 436.7 545.0 450.0C560.8 463.3 564.2 495.0 575.0 520.0C585.8 545.0 603.3 580.0 610.0 600.0C616.7 620.0 620.0 628.3 615.0 640.0C610.0 651.7 599.2 663.3 580.0 670.0C560.8 676.7 523.3 680.0 500.0 680.0C476.7 680.0 456.7 680.0 440.0 670.0C423.3 660.0 408.3 641.7 400.0 620.0C391.7 598.3 390.0 570.0 390.0 540.0C390.0 510.0 385.0 456.7 400.0 440.0Z" fill="#000" opacity=".14" transform="translate(12 16)" filter="url(#psh)"/>
<path d="M350.0 300.0C364.2 286.7 401.7 285.0 430.0 290.0C458.3 295.0 498.3 315.0 520.0 330.0C541.7 345.0 560.0 363.3 560.0 380.0C560.0 396.7 540.0 418.3 520.0 430.0C500.0 441.7 465.0 450.0 440.0 450.0C415.0 450.0 385.8 443.3 370.0 430.0C354.2 416.7 348.3 391.7 345.0 370.0C341.7 348.3 335.8 313.3 350.0 300.0Z" fill="#000" opacity=".14" transform="translate(12 16)" filter="url(#psh)"/>
<path d="M480.0 220.0C490.0 209.2 510.0 204.2 530.0 205.0C550.0 205.8 575.0 220.8 600.0 225.0C625.0 229.2 662.5 226.7 680.0 230.0C697.5 233.3 703.3 236.7 705.0 245.0C706.7 253.3 699.2 267.5 690.0 280.0C680.8 292.5 661.7 306.7 650.0 320.0C638.3 333.3 631.7 348.3 620.0 360.0C608.3 371.7 596.7 383.3 580.0 390.0C563.3 396.7 536.7 401.7 520.0 400.0C503.3 398.3 488.3 391.7 480.0 380.0C471.7 368.3 471.7 348.3 470.0 330.0C468.3 311.7 468.3 288.3 470.0 270.0C471.7 251.7 470.0 230.8 480.0 220.0Z" fill="#000" opacity=".14" transform="translate(12 16)" filter="url(#psh)"/>
<path d="M370.0 130.0C377.0 117.5 393.3 110.0 410.0 105.0C426.7 100.0 452.5 97.5 470.0 100.0C487.5 102.5 505.8 108.3 515.0 120.0C524.2 131.7 526.7 151.7 525.0 170.0C523.3 188.3 512.5 211.7 505.0 230.0C497.5 248.3 489.2 268.3 480.0 280.0C470.8 291.7 460.0 300.0 450.0 300.0C440.0 300.0 430.0 291.7 420.0 280.0C410.0 268.3 398.7 246.7 390.0 230.0C381.3 213.3 371.3 196.7 368.0 180.0C364.7 163.3 363.0 142.5 370.0 130.0Z" fill="#000" opacity=".14" transform="translate(12 16)" filter="url(#psh)"/>
<path d="M370.0 130.0C378.3 115.0 393.3 110.0 410.0 105.0C426.7 100.0 452.5 97.5 470.0 100.0C487.5 102.5 505.8 103.3 515.0 120.0C524.2 136.7 510.8 182.5 525.0 200.0C539.2 217.5 574.2 220.0 600.0 225.0C625.8 230.0 662.5 226.7 680.0 230.0C697.5 233.3 710.0 230.0 705.0 245.0C700.0 260.0 670.8 294.2 650.0 320.0C629.2 345.8 597.5 378.3 580.0 400.0C562.5 421.7 545.8 430.0 545.0 450.0C544.2 470.0 563.3 488.3 575.0 520.0C586.7 551.7 614.2 615.0 615.0 640.0C615.8 665.0 599.2 663.3 580.0 670.0C560.8 676.7 523.3 680.0 500.0 680.0C476.7 680.0 456.7 676.7 440.0 670.0C423.3 663.3 413.3 636.7 400.0 640.0C386.7 643.3 371.7 681.7 360.0 690.0C348.3 698.3 340.0 696.7 330.0 690.0C320.0 683.3 306.7 670.0 300.0 650.0C293.3 630.0 298.3 581.7 290.0 570.0C281.7 558.3 271.7 583.3 250.0 580.0C228.3 576.7 180.8 578.3 160.0 550.0C139.2 521.7 123.3 453.3 125.0 410.0C126.7 366.7 145.8 324.2 170.0 290.0C194.2 255.8 238.3 220.8 270.0 205.0C301.7 189.2 343.3 207.5 360.0 195.0C376.7 182.5 361.7 145.0 370.0 130.0Z" fill="#6B361E"/>
<path d="M300.0 190.0C315.0 189.2 346.7 188.3 360.0 200.0C373.3 211.7 380.0 236.7 380.0 260.0C380.0 283.3 365.8 313.3 360.0 340.0C354.2 366.7 350.0 395.0 345.0 420.0C340.0 445.0 337.5 468.3 330.0 490.0C322.5 511.7 313.3 535.0 300.0 550.0C286.7 565.0 266.7 575.0 250.0 580.0C233.3 585.0 215.0 585.0 200.0 580.0C185.0 575.0 170.8 566.7 160.0 550.0C149.2 533.3 140.8 503.3 135.0 480.0C129.2 456.7 124.2 433.3 125.0 410.0C125.8 386.7 132.5 360.0 140.0 340.0C147.5 320.0 156.7 306.7 170.0 290.0C183.3 273.3 203.3 254.2 220.0 240.0C236.7 225.8 256.7 213.3 270.0 205.0C283.3 196.7 285.0 190.8 300.0 190.0Z" fill="url(#lg2_0)" stroke="#6B361E" stroke-width="2.5" stroke-linejoin="round" stroke-opacity=".7"/>
<path d="M330.0 430.0C341.7 420.0 358.3 428.3 370.0 440.0C381.7 451.7 395.0 476.7 400.0 500.0C405.0 523.3 401.7 555.0 400.0 580.0C398.3 605.0 396.7 631.7 390.0 650.0C383.3 668.3 370.0 683.3 360.0 690.0C350.0 696.7 340.0 696.7 330.0 690.0C320.0 683.3 306.7 668.3 300.0 650.0C293.3 631.7 290.0 605.0 290.0 580.0C290.0 555.0 293.3 525.0 300.0 500.0C306.7 475.0 318.3 440.0 330.0 430.0Z" fill="url(#lg2_1)" stroke="#67301E" stroke-width="2.5" stroke-linejoin="round" stroke-opacity=".7"/>
<path d="M400.0 440.0C415.0 423.3 455.8 438.3 480.0 440.0C504.2 441.7 529.2 436.7 545.0 450.0C560.8 463.3 564.2 495.0 575.0 520.0C585.8 545.0 603.3 580.0 610.0 600.0C616.7 620.0 620.0 628.3 615.0 640.0C610.0 651.7 599.2 663.3 580.0 670.0C560.8 676.7 523.3 680.0 500.0 680.0C476.7 680.0 456.7 680.0 440.0 670.0C423.3 660.0 408.3 641.7 400.0 620.0C391.7 598.3 390.0 570.0 390.0 540.0C390.0 510.0 385.0 456.7 400.0 440.0Z" fill="url(#lg2_2)" stroke="#69321E" stroke-width="2.5" stroke-linejoin="round" stroke-opacity=".7"/>
<path d="M350.0 300.0C364.2 286.7 401.7 285.0 430.0 290.0C458.3 295.0 498.3 315.0 520.0 330.0C541.7 345.0 560.0 363.3 560.0 380.0C560.0 396.7 540.0 418.3 520.0 430.0C500.0 441.7 465.0 450.0 440.0 450.0C415.0 450.0 385.8 443.3 370.0 430.0C354.2 416.7 348.3 391.7 345.0 370.0C341.7 348.3 335.8 313.3 350.0 300.0Z" fill="url(#lg2_3)" stroke="#3A1A0F" stroke-width="2.5" stroke-linejoin="round" stroke-opacity=".7"/>
<path d="M480.0 220.0C490.0 209.2 510.0 204.2 530.0 205.0C550.0 205.8 575.0 220.8 600.0 225.0C625.0 229.2 662.5 226.7 680.0 230.0C697.5 233.3 703.3 236.7 705.0 245.0C706.7 253.3 699.2 267.5 690.0 280.0C680.8 292.5 661.7 306.7 650.0 320.0C638.3 333.3 631.7 348.3 620.0 360.0C608.3 371.7 596.7 383.3 580.0 390.0C563.3 396.7 536.7 401.7 520.0 400.0C503.3 398.3 488.3 391.7 480.0 380.0C471.7 368.3 471.7 348.3 470.0 330.0C468.3 311.7 468.3 288.3 470.0 270.0C471.7 251.7 470.0 230.8 480.0 220.0Z" fill="url(#lg2_4)" stroke="#672F1E" stroke-width="2.5" stroke-linejoin="round" stroke-opacity=".7"/>
<path d="M370.0 130.0C377.0 117.5 393.3 110.0 410.0 105.0C426.7 100.0 452.5 97.5 470.0 100.0C487.5 102.5 505.8 108.3 515.0 120.0C524.2 131.7 526.7 151.7 525.0 170.0C523.3 188.3 512.5 211.7 505.0 230.0C497.5 248.3 489.2 268.3 480.0 280.0C470.8 291.7 460.0 300.0 450.0 300.0C440.0 300.0 430.0 291.7 420.0 280.0C410.0 268.3 398.7 246.7 390.0 230.0C381.3 213.3 371.3 196.7 368.0 180.0C364.7 163.3 363.0 142.5 370.0 130.0Z" fill="url(#lg2_5)" stroke="#723A21" stroke-width="2.5" stroke-linejoin="round" stroke-opacity=".7"/>
<g filter="url(#pb2)" opacity=".75">
 <ellipse cx="130" cy="360" rx="35" ry="60" fill="#F2EEE0"/>
 <ellipse cx="625" cy="510" rx="55" ry="70" fill="#F2ECDA"/>
 <ellipse cx="220" cy="100" rx="50" ry="20" fill="#D8D6CC"/>
 <ellipse cx="430" cy="80" rx="60" ry="25" fill="#E4E2D8"/>
 </g>
 <g fill="#E8D8C0" opacity=".75" filter="url(#pb1)"><circle cx="400" cy="370" r="8"/><circle cx="460" cy="390" r="8"/><circle cx="430" cy="340" r="6"/><circle cx="340" cy="270" r="9"/><circle cx="330" cy="380" r="10"/></g>
 <path d="M330 250 C325 300 335 380 330 430" stroke="#F0E0D0" stroke-width="12" fill="none" opacity=".55" filter="url(#pb1)"/>
</g></g>
<clipPath id="pc3"><rect width="105" height="105.30000000000001"/></clipPath>
<g transform="translate(429 242.5)" clip-path="url(#pc3)">
<rect width="105" height="105.30000000000001" fill="url(#bg3)"/>
<g transform="scale(0.13548)">
<path d="M130.0 120.0C151.7 113.3 198.3 106.7 230.0 110.0C261.7 113.3 296.7 125.0 320.0 140.0C343.3 155.0 358.3 180.0 370.0 200.0C381.7 220.0 390.0 238.3 390.0 260.0C390.0 281.7 380.0 303.3 370.0 330.0C360.0 356.7 343.3 395.0 330.0 420.0C316.7 445.0 305.0 461.7 290.0 480.0C275.0 498.3 260.0 520.0 240.0 530.0C220.0 540.0 191.7 548.3 170.0 540.0C148.3 531.7 128.3 500.0 110.0 480.0C91.7 460.0 71.7 443.3 60.0 420.0C48.3 396.7 40.0 365.0 40.0 340.0C40.0 315.0 53.3 293.3 60.0 270.0C66.7 246.7 73.3 220.0 80.0 200.0C86.7 180.0 91.7 163.3 100.0 150.0C108.3 136.7 108.3 126.7 130.0 120.0Z" fill="#000" opacity=".14" transform="translate(12 16)" filter="url(#psh)"/>
<path d="M480.0 120.0C506.7 113.3 565.0 121.7 600.0 130.0C635.0 138.3 671.7 150.0 690.0 170.0C708.3 190.0 710.0 225.0 710.0 250.0C710.0 275.0 691.7 295.0 690.0 320.0C688.3 345.0 701.7 373.3 700.0 400.0C698.3 426.7 688.3 453.3 680.0 480.0C671.7 506.7 660.0 533.3 650.0 560.0C640.0 586.7 635.0 623.3 620.0 640.0C605.0 656.7 580.0 660.0 560.0 660.0C540.0 660.0 523.3 645.0 500.0 640.0C476.7 635.0 448.3 636.7 420.0 630.0C391.7 623.3 353.3 615.0 330.0 600.0C306.7 585.0 285.0 561.7 280.0 540.0C275.0 518.3 291.7 496.7 300.0 470.0C308.3 443.3 316.7 408.3 330.0 380.0C343.3 351.7 368.3 325.0 380.0 300.0C391.7 275.0 390.0 251.7 400.0 230.0C410.0 208.3 426.7 188.3 440.0 170.0C453.3 151.7 453.3 126.7 480.0 120.0Z" fill="#000" opacity=".14" transform="translate(12 16)" filter="url(#psh)"/>
<path d="M130.0 120.0C151.7 113.3 198.3 106.7 230.0 110.0C261.7 113.3 296.7 125.0 320.0 140.0C343.3 155.0 358.3 180.0 370.0 200.0C381.7 220.0 390.0 238.3 390.0 260.0C390.0 281.7 380.0 303.3 370.0 330.0C360.0 356.7 343.3 395.0 330.0 420.0C316.7 445.0 305.0 461.7 290.0 480.0C275.0 498.3 260.0 520.0 240.0 530.0C220.0 540.0 191.7 548.3 170.0 540.0C148.3 531.7 128.3 500.0 110.0 480.0C91.7 460.0 71.7 443.3 60.0 420.0C48.3 396.7 40.0 365.0 40.0 340.0C40.0 315.0 53.3 293.3 60.0 270.0C66.7 246.7 73.3 220.0 80.0 200.0C86.7 180.0 91.7 163.3 100.0 150.0C108.3 136.7 108.3 126.7 130.0 120.0Z" fill="url(#lg3_0)" stroke="#643724" stroke-width="2.5" stroke-linejoin="round" stroke-opacity=".7"/>
<path d="M480.0 120.0C506.7 113.3 565.0 121.7 600.0 130.0C635.0 138.3 671.7 150.0 690.0 170.0C708.3 190.0 710.0 225.0 710.0 250.0C710.0 275.0 691.7 295.0 690.0 320.0C688.3 345.0 701.7 373.3 700.0 400.0C698.3 426.7 688.3 453.3 680.0 480.0C671.7 506.7 660.0 533.3 650.0 560.0C640.0 586.7 635.0 623.3 620.0 640.0C605.0 656.7 580.0 660.0 560.0 660.0C540.0 660.0 523.3 645.0 500.0 640.0C476.7 635.0 448.3 636.7 420.0 630.0C391.7 623.3 353.3 615.0 330.0 600.0C306.7 585.0 285.0 561.7 280.0 540.0C275.0 518.3 291.7 496.7 300.0 470.0C308.3 443.3 316.7 408.3 330.0 380.0C343.3 351.7 368.3 325.0 380.0 300.0C391.7 275.0 390.0 251.7 400.0 230.0C410.0 208.3 426.7 188.3 440.0 170.0C453.3 151.7 453.3 126.7 480.0 120.0Z" fill="url(#lg3_1)" stroke="#5D3527" stroke-width="2.5" stroke-linejoin="round" stroke-opacity=".7"/>
<path d="M390 240 C370 330 340 420 300 500" stroke="#3A1A10" stroke-width="16" fill="none" opacity=".55" filter="url(#pb1)"/>
 <ellipse cx="490" cy="640" rx="150" ry="30" fill="#4A5058" opacity=".35" filter="url(#pb2)"/>
 <path d="M380 520 C450 560 550 600 640 580" stroke="#3E2416" stroke-width="40" fill="none" opacity=".3" filter="url(#pb2)"/>
 <g fill="#F4E6DC" opacity=".85" filter="url(#pb1)">
 <ellipse cx="330" cy="340" rx="22" ry="14"/>
 <ellipse cx="570" cy="210" rx="32" ry="9" transform="rotate(-20 570 210)"/>
 <ellipse cx="560" cy="280" rx="22" ry="8"/>
 <ellipse cx="230" cy="135" rx="25" ry="8"/>
 <ellipse cx="490" cy="405" rx="7" ry="9"/>
 </g>
 <ellipse cx="605" cy="260" rx="16" ry="9" fill="#3A2010" opacity=".7" filter="url(#pb1)"/>
</g></g>
<clipPath id="pc4"><rect width="104" height="105.30000000000001"/></clipPath>
<g transform="translate(553 242.5)" clip-path="url(#pc4)">
<rect width="104" height="105.30000000000001" fill="url(#bg4)"/>
<g transform="scale(0.13548)">
<path d="M140.0 290.0C160.0 280.8 180.0 281.7 200.0 285.0C220.0 288.3 240.0 299.2 260.0 310.0C280.0 320.8 300.0 338.3 320.0 350.0C340.0 361.7 361.7 371.7 380.0 380.0C398.3 388.3 419.2 388.3 430.0 400.0C440.8 411.7 443.3 433.3 445.0 450.0C446.7 466.7 445.8 485.0 440.0 500.0C434.2 515.0 420.0 523.3 410.0 540.0C400.0 556.7 390.0 583.3 380.0 600.0C370.0 616.7 366.7 629.2 350.0 640.0C333.3 650.8 305.0 661.7 280.0 665.0C255.0 668.3 226.7 664.2 200.0 660.0C173.3 655.8 143.3 650.0 120.0 640.0C96.7 630.0 75.8 616.7 60.0 600.0C44.2 583.3 32.5 561.7 25.0 540.0C17.5 518.3 12.5 493.3 15.0 470.0C17.5 446.7 29.2 421.7 40.0 400.0C50.8 378.3 63.3 358.3 80.0 340.0C96.7 321.7 120.0 299.2 140.0 290.0Z" fill="#000" opacity=".14" transform="translate(12 16)" filter="url(#psh)"/>
<path d="M430.0 430.0C446.7 426.7 491.7 461.7 520.0 470.0C548.3 478.3 576.7 478.3 600.0 480.0C623.3 481.7 645.8 470.0 660.0 480.0C674.2 490.0 683.3 520.0 685.0 540.0C686.7 560.0 679.2 581.7 670.0 600.0C660.8 618.3 648.3 635.0 630.0 650.0C611.7 665.0 585.0 681.7 560.0 690.0C535.0 698.3 503.3 700.0 480.0 700.0C456.7 700.0 438.3 696.7 420.0 690.0C401.7 683.3 380.0 675.0 370.0 660.0C360.0 645.0 358.3 620.0 360.0 600.0C361.7 580.0 370.0 558.3 380.0 540.0C390.0 521.7 411.7 508.3 420.0 490.0C428.3 471.7 413.3 433.3 430.0 430.0Z" fill="#000" opacity=".14" transform="translate(12 16)" filter="url(#psh)"/>
<path d="M575.0 190.0C582.5 185.0 612.5 202.5 630.0 210.0C647.5 217.5 670.0 221.7 680.0 235.0C690.0 248.3 692.5 270.8 690.0 290.0C687.5 309.2 669.2 326.7 665.0 350.0C660.8 373.3 669.2 410.0 665.0 430.0C660.8 450.0 654.2 461.7 640.0 470.0C625.8 478.3 600.0 480.0 580.0 480.0C560.0 480.0 538.3 476.7 520.0 470.0C501.7 463.3 483.3 451.7 470.0 440.0C456.7 428.3 440.0 413.3 440.0 400.0C440.0 386.7 455.0 371.7 470.0 360.0C485.0 348.3 514.2 341.7 530.0 330.0C545.8 318.3 555.8 305.0 565.0 290.0C574.2 275.0 583.3 256.7 585.0 240.0C586.7 223.3 567.5 195.0 575.0 190.0Z" fill="#000" opacity=".14" transform="translate(12 16)" filter="url(#psh)"/>
<path d="M265.0 160.0C280.0 150.8 302.5 148.3 330.0 145.0C357.5 141.7 398.3 139.2 430.0 140.0C461.7 140.8 496.7 143.3 520.0 150.0C543.3 156.7 560.0 166.7 570.0 180.0C580.0 193.3 581.7 213.3 580.0 230.0C578.3 246.7 573.3 265.0 560.0 280.0C546.7 295.0 521.7 308.3 500.0 320.0C478.3 331.7 453.3 343.3 430.0 350.0C406.7 356.7 383.3 361.7 360.0 360.0C336.7 358.3 310.0 350.0 290.0 340.0C270.0 330.0 250.8 315.0 240.0 300.0C229.2 285.0 225.0 266.7 225.0 250.0C225.0 233.3 233.3 215.0 240.0 200.0C246.7 185.0 250.0 169.2 265.0 160.0Z" fill="#000" opacity=".14" transform="translate(12 16)" filter="url(#psh)"/>
<path d="M265.0 160.0C298.3 136.7 387.5 141.7 430.0 140.0C472.5 138.3 495.0 141.7 520.0 150.0C545.0 158.3 553.3 175.8 580.0 190.0C606.7 204.2 661.7 218.3 680.0 235.0C698.3 251.7 692.5 270.8 690.0 290.0C687.5 309.2 669.2 326.7 665.0 350.0C660.8 373.3 661.7 398.3 665.0 430.0C668.3 461.7 684.2 511.7 685.0 540.0C685.8 568.3 679.2 581.7 670.0 600.0C660.8 618.3 648.3 635.0 630.0 650.0C611.7 665.0 585.0 681.7 560.0 690.0C535.0 698.3 511.7 705.0 480.0 700.0C448.3 695.0 403.3 665.8 370.0 660.0C336.7 654.2 321.7 668.3 280.0 665.0C238.3 661.7 162.5 660.8 120.0 640.0C77.5 619.2 42.5 568.3 25.0 540.0C7.5 511.7 12.5 493.3 15.0 470.0C17.5 446.7 19.2 430.0 40.0 400.0C60.8 370.0 108.3 310.0 140.0 290.0C171.7 270.0 209.2 301.7 230.0 280.0C250.8 258.3 231.7 183.3 265.0 160.0Z" fill="#773C2D"/>
<path d="M140.0 290.0C160.0 280.8 180.0 281.7 200.0 285.0C220.0 288.3 240.0 299.2 260.0 310.0C280.0 320.8 300.0 338.3 320.0 350.0C340.0 361.7 361.7 371.7 380.0 380.0C398.3 388.3 419.2 388.3 430.0 400.0C440.8 411.7 443.3 433.3 445.0 450.0C446.7 466.7 445.8 485.0 440.0 500.0C434.2 515.0 420.0 523.3 410.0 540.0C400.0 556.7 390.0 583.3 380.0 600.0C370.0 616.7 366.7 629.2 350.0 640.0C333.3 650.8 305.0 661.7 280.0 665.0C255.0 668.3 226.7 664.2 200.0 660.0C173.3 655.8 143.3 650.0 120.0 640.0C96.7 630.0 75.8 616.7 60.0 600.0C44.2 583.3 32.5 561.7 25.0 540.0C17.5 518.3 12.5 493.3 15.0 470.0C17.5 446.7 29.2 421.7 40.0 400.0C50.8 378.3 63.3 358.3 80.0 340.0C96.7 321.7 120.0 299.2 140.0 290.0Z" fill="url(#lg4_0)" stroke="#773C2D" stroke-width="2.5" stroke-linejoin="round" stroke-opacity=".7"/>
<path d="M430.0 430.0C446.7 426.7 491.7 461.7 520.0 470.0C548.3 478.3 576.7 478.3 600.0 480.0C623.3 481.7 645.8 470.0 660.0 480.0C674.2 490.0 683.3 520.0 685.0 540.0C686.7 560.0 679.2 581.7 670.0 600.0C660.8 618.3 648.3 635.0 630.0 650.0C611.7 665.0 585.0 681.7 560.0 690.0C535.0 698.3 503.3 700.0 480.0 700.0C456.7 700.0 438.3 696.7 420.0 690.0C401.7 683.3 380.0 675.0 370.0 660.0C360.0 645.0 358.3 620.0 360.0 600.0C361.7 580.0 370.0 558.3 380.0 540.0C390.0 521.7 411.7 508.3 420.0 490.0C428.3 471.7 413.3 433.3 430.0 430.0Z" fill="url(#lg4_1)" stroke="#834635" stroke-width="2.5" stroke-linejoin="round" stroke-opacity=".7"/>
<path d="M575.0 190.0C582.5 185.0 612.5 202.5 630.0 210.0C647.5 217.5 670.0 221.7 680.0 235.0C690.0 248.3 692.5 270.8 690.0 290.0C687.5 309.2 669.2 326.7 665.0 350.0C660.8 373.3 669.2 410.0 665.0 430.0C660.8 450.0 654.2 461.7 640.0 470.0C625.8 478.3 600.0 480.0 580.0 480.0C560.0 480.0 538.3 476.7 520.0 470.0C501.7 463.3 483.3 451.7 470.0 440.0C456.7 428.3 440.0 413.3 440.0 400.0C440.0 386.7 455.0 371.7 470.0 360.0C485.0 348.3 514.2 341.7 530.0 330.0C545.8 318.3 555.8 305.0 565.0 290.0C574.2 275.0 583.3 256.7 585.0 240.0C586.7 223.3 567.5 195.0 575.0 190.0Z" fill="url(#lg4_2)" stroke="#844634" stroke-width="2.5" stroke-linejoin="round" stroke-opacity=".7"/>
<path d="M265.0 160.0C280.0 150.8 302.5 148.3 330.0 145.0C357.5 141.7 398.3 139.2 430.0 140.0C461.7 140.8 496.7 143.3 520.0 150.0C543.3 156.7 560.0 166.7 570.0 180.0C580.0 193.3 581.7 213.3 580.0 230.0C578.3 246.7 573.3 265.0 560.0 280.0C546.7 295.0 521.7 308.3 500.0 320.0C478.3 331.7 453.3 343.3 430.0 350.0C406.7 356.7 383.3 361.7 360.0 360.0C336.7 358.3 310.0 350.0 290.0 340.0C270.0 330.0 250.8 315.0 240.0 300.0C229.2 285.0 225.0 266.7 225.0 250.0C225.0 233.3 233.3 215.0 240.0 200.0C246.7 185.0 250.0 169.2 265.0 160.0Z" fill="url(#lg4_3)" stroke="#864434" stroke-width="2.5" stroke-linejoin="round" stroke-opacity=".7"/>
<ellipse cx="110" cy="440" rx="50" ry="70" fill="#5A2218" opacity=".5" filter="url(#pb2)"/>
 <path d="M480 260 C520 290 540 340 560 380 C520 400 480 390 440 370 C450 330 460 290 480 260 Z" fill="#4A2018" opacity=".75" filter="url(#pb1)"/>
 <path d="M200 300 C240 320 280 340 300 350" stroke="#5A2418" stroke-width="12" fill="none" opacity=".5" filter="url(#pb1)"/>
 <g fill="#F4E8E0" opacity=".85" filter="url(#pb1)">
 <ellipse cx="410" cy="495" rx="28" ry="20"/>
 <ellipse cx="380" cy="570" rx="12" ry="28"/>
 <ellipse cx="520" cy="270" rx="14" ry="8"/>
 <ellipse cx="495" cy="330" rx="10" ry="8"/>
 <ellipse cx="290" cy="640" rx="14" ry="8"/>
 <ellipse cx="650" cy="470" rx="12" ry="10"/>
 <ellipse cx="255" cy="335" rx="12" ry="8"/>
 </g>
</g></g>
<clipPath id="pc5"><rect width="105" height="105.30000000000001"/></clipPath>
<g transform="translate(668 242.5)" clip-path="url(#pc5)">
<rect width="105" height="105.30000000000001" fill="url(#bg5)"/>
<g transform="scale(0.13548)">
<path d="M160.0 560.0C170.0 546.7 181.7 530.0 200.0 520.0C218.3 510.0 248.3 500.0 270.0 500.0C291.7 500.0 311.7 510.0 330.0 520.0C348.3 530.0 365.0 543.3 380.0 560.0C395.0 576.7 411.7 603.3 420.0 620.0C428.3 636.7 436.7 646.7 430.0 660.0C423.3 673.3 400.0 688.3 380.0 700.0C360.0 711.7 335.0 722.5 310.0 730.0C285.0 737.5 253.3 748.3 230.0 745.0C206.7 741.7 185.0 725.8 170.0 710.0C155.0 694.2 145.0 668.3 140.0 650.0C135.0 631.7 136.7 615.0 140.0 600.0C143.3 585.0 150.0 573.3 160.0 560.0Z" fill="#000" opacity=".14" transform="translate(12 16)" filter="url(#psh)"/>
<path d="M125.0 225.0C135.0 216.7 169.2 230.8 190.0 240.0C210.8 249.2 233.3 266.7 250.0 280.0C266.7 293.3 275.0 305.0 290.0 320.0C305.0 335.0 325.0 353.3 340.0 370.0C355.0 386.7 376.7 405.0 380.0 420.0C383.3 435.0 373.3 451.7 360.0 460.0C346.7 468.3 321.7 470.0 300.0 470.0C278.3 470.0 250.0 468.3 230.0 460.0C210.0 451.7 193.3 438.3 180.0 420.0C166.7 401.7 158.3 371.7 150.0 350.0C141.7 328.3 134.2 310.8 130.0 290.0C125.8 269.2 115.0 233.3 125.0 225.0Z" fill="#000" opacity=".14" transform="translate(12 16)" filter="url(#psh)"/>
<path d="M290.0 300.0C300.0 288.3 328.3 293.3 350.0 290.0C371.7 286.7 398.3 278.3 420.0 280.0C441.7 281.7 466.7 288.3 480.0 300.0C493.3 311.7 498.3 330.0 500.0 350.0C501.7 370.0 500.0 401.7 490.0 420.0C480.0 438.3 458.3 453.3 440.0 460.0C421.7 466.7 398.3 466.7 380.0 460.0C361.7 453.3 345.0 436.7 330.0 420.0C315.0 403.3 296.7 380.0 290.0 360.0C283.3 340.0 280.0 311.7 290.0 300.0Z" fill="#000" opacity=".14" transform="translate(12 16)" filter="url(#psh)"/>
<path d="M320.0 55.0C340.0 43.3 385.0 34.2 420.0 30.0C455.0 25.8 500.8 23.3 530.0 30.0C559.2 36.7 580.0 51.7 595.0 70.0C610.0 88.3 619.2 118.3 620.0 140.0C620.8 161.7 611.7 183.3 600.0 200.0C588.3 216.7 568.3 230.0 550.0 240.0C531.7 250.0 511.7 255.0 490.0 260.0C468.3 265.0 443.3 266.7 420.0 270.0C396.7 273.3 370.0 283.3 350.0 280.0C330.0 276.7 309.2 268.3 300.0 250.0C290.8 231.7 295.0 195.0 295.0 170.0C295.0 145.0 295.8 119.2 300.0 100.0C304.2 80.8 300.0 66.7 320.0 55.0Z" fill="#000" opacity=".14" transform="translate(12 16)" filter="url(#psh)"/>
<path d="M475.0 265.0C485.0 258.3 515.8 259.2 540.0 260.0C564.2 260.8 598.3 263.3 620.0 270.0C641.7 276.7 660.0 285.0 670.0 300.0C680.0 315.0 678.3 338.3 680.0 360.0C681.7 381.7 686.7 416.7 680.0 430.0C673.3 443.3 656.7 441.7 640.0 440.0C623.3 438.3 598.3 426.7 580.0 420.0C561.7 413.3 543.3 411.7 530.0 400.0C516.7 388.3 508.3 366.7 500.0 350.0C491.7 333.3 484.2 314.2 480.0 300.0C475.8 285.8 465.0 271.7 475.0 265.0Z" fill="#000" opacity=".14" transform="translate(12 16)" filter="url(#psh)"/>
<path d="M440.0 450.0C455.0 433.3 478.3 426.7 500.0 420.0C521.7 413.3 546.7 410.0 570.0 410.0C593.3 410.0 620.0 411.7 640.0 420.0C660.0 428.3 678.3 441.7 690.0 460.0C701.7 478.3 708.3 506.7 710.0 530.0C711.7 553.3 708.3 580.0 700.0 600.0C691.7 620.0 676.7 636.7 660.0 650.0C643.3 663.3 621.7 676.7 600.0 680.0C578.3 683.3 553.3 676.7 530.0 670.0C506.7 663.3 478.3 653.3 460.0 640.0C441.7 626.7 428.3 610.0 420.0 590.0C411.7 570.0 406.7 543.3 410.0 520.0C413.3 496.7 425.0 466.7 440.0 450.0Z" fill="#000" opacity=".14" transform="translate(12 16)" filter="url(#psh)"/>
<path d="M320.0 55.0C340.8 31.7 385.0 34.2 420.0 30.0C455.0 25.8 500.8 23.3 530.0 30.0C559.2 36.7 580.0 51.7 595.0 70.0C610.0 88.3 619.2 118.3 620.0 140.0C620.8 161.7 610.0 180.8 600.0 200.0C590.0 219.2 553.3 243.3 560.0 255.0C566.7 266.7 620.0 259.2 640.0 270.0C660.0 280.8 673.3 293.3 680.0 320.0C686.7 346.7 675.0 395.0 680.0 430.0C685.0 465.0 706.7 501.7 710.0 530.0C713.3 558.3 708.3 580.0 700.0 600.0C691.7 620.0 676.7 636.7 660.0 650.0C643.3 663.3 621.7 676.7 600.0 680.0C578.3 683.3 556.7 670.0 530.0 670.0C503.3 670.0 465.0 675.0 440.0 680.0C415.0 685.0 401.7 691.7 380.0 700.0C358.3 708.3 335.0 722.5 310.0 730.0C285.0 737.5 253.3 748.3 230.0 745.0C206.7 741.7 185.0 725.8 170.0 710.0C155.0 694.2 143.3 673.3 140.0 650.0C136.7 626.7 141.7 598.3 150.0 570.0C158.3 541.7 190.0 516.7 190.0 480.0C190.0 443.3 160.8 392.5 150.0 350.0C139.2 307.5 118.3 243.3 125.0 225.0C131.7 206.7 162.5 227.5 190.0 240.0C217.5 252.5 272.5 311.7 290.0 300.0C307.5 288.3 290.0 210.8 295.0 170.0C300.0 129.2 299.2 78.3 320.0 55.0Z" fill="#8D3A2E"/>
<path d="M160.0 560.0C170.0 546.7 181.7 530.0 200.0 520.0C218.3 510.0 248.3 500.0 270.0 500.0C291.7 500.0 311.7 510.0 330.0 520.0C348.3 530.0 365.0 543.3 380.0 560.0C395.0 576.7 411.7 603.3 420.0 620.0C428.3 636.7 436.7 646.7 430.0 660.0C423.3 673.3 400.0 688.3 380.0 700.0C360.0 711.7 335.0 722.5 310.0 730.0C285.0 737.5 253.3 748.3 230.0 745.0C206.7 741.7 185.0 725.8 170.0 710.0C155.0 694.2 145.0 668.3 140.0 650.0C135.0 631.7 136.7 615.0 140.0 600.0C143.3 585.0 150.0 573.3 160.0 560.0Z" fill="url(#lg5_0)" stroke="#8D3A2E" stroke-width="2.5" stroke-linejoin="round" stroke-opacity=".7"/>
<path d="M125.0 225.0C135.0 216.7 169.2 230.8 190.0 240.0C210.8 249.2 233.3 266.7 250.0 280.0C266.7 293.3 275.0 305.0 290.0 320.0C305.0 335.0 325.0 353.3 340.0 370.0C355.0 386.7 376.7 405.0 380.0 420.0C383.3 435.0 373.3 451.7 360.0 460.0C346.7 468.3 321.7 470.0 300.0 470.0C278.3 470.0 250.0 468.3 230.0 460.0C210.0 451.7 193.3 438.3 180.0 420.0C166.7 401.7 158.3 371.7 150.0 350.0C141.7 328.3 134.2 310.8 130.0 290.0C125.8 269.2 115.0 233.3 125.0 225.0Z" fill="url(#lg5_1)" stroke="#8D382E" stroke-width="2.5" stroke-linejoin="round" stroke-opacity=".7"/>
<path d="M290.0 300.0C300.0 288.3 328.3 293.3 350.0 290.0C371.7 286.7 398.3 278.3 420.0 280.0C441.7 281.7 466.7 288.3 480.0 300.0C493.3 311.7 498.3 330.0 500.0 350.0C501.7 370.0 500.0 401.7 490.0 420.0C480.0 438.3 458.3 453.3 440.0 460.0C421.7 466.7 398.3 466.7 380.0 460.0C361.7 453.3 345.0 436.7 330.0 420.0C315.0 403.3 296.7 380.0 290.0 360.0C283.3 340.0 280.0 311.7 290.0 300.0Z" fill="url(#lg5_2)" stroke="#83342E" stroke-width="2.5" stroke-linejoin="round" stroke-opacity=".7"/>
<path d="M320.0 55.0C340.0 43.3 385.0 34.2 420.0 30.0C455.0 25.8 500.8 23.3 530.0 30.0C559.2 36.7 580.0 51.7 595.0 70.0C610.0 88.3 619.2 118.3 620.0 140.0C620.8 161.7 611.7 183.3 600.0 200.0C588.3 216.7 568.3 230.0 550.0 240.0C531.7 250.0 511.7 255.0 490.0 260.0C468.3 265.0 443.3 266.7 420.0 270.0C396.7 273.3 370.0 283.3 350.0 280.0C330.0 276.7 309.2 268.3 300.0 250.0C290.8 231.7 295.0 195.0 295.0 170.0C295.0 145.0 295.8 119.2 300.0 100.0C304.2 80.8 300.0 66.7 320.0 55.0Z" fill="url(#lg5_3)" stroke="#8F3E30" stroke-width="2.5" stroke-linejoin="round" stroke-opacity=".7"/>
<path d="M475.0 265.0C485.0 258.3 515.8 259.2 540.0 260.0C564.2 260.8 598.3 263.3 620.0 270.0C641.7 276.7 660.0 285.0 670.0 300.0C680.0 315.0 678.3 338.3 680.0 360.0C681.7 381.7 686.7 416.7 680.0 430.0C673.3 443.3 656.7 441.7 640.0 440.0C623.3 438.3 598.3 426.7 580.0 420.0C561.7 413.3 543.3 411.7 530.0 400.0C516.7 388.3 508.3 366.7 500.0 350.0C491.7 333.3 484.2 314.2 480.0 300.0C475.8 285.8 465.0 271.7 475.0 265.0Z" fill="url(#lg5_4)" stroke="#954336" stroke-width="2.5" stroke-linejoin="round" stroke-opacity=".7"/>
<path d="M440.0 450.0C455.0 433.3 478.3 426.7 500.0 420.0C521.7 413.3 546.7 410.0 570.0 410.0C593.3 410.0 620.0 411.7 640.0 420.0C660.0 428.3 678.3 441.7 690.0 460.0C701.7 478.3 708.3 506.7 710.0 530.0C711.7 553.3 708.3 580.0 700.0 600.0C691.7 620.0 676.7 636.7 660.0 650.0C643.3 663.3 621.7 676.7 600.0 680.0C578.3 683.3 553.3 676.7 530.0 670.0C506.7 663.3 478.3 653.3 460.0 640.0C441.7 626.7 428.3 610.0 420.0 590.0C411.7 570.0 406.7 543.3 410.0 520.0C413.3 496.7 425.0 466.7 440.0 450.0Z" fill="url(#lg5_5)" stroke="#974336" stroke-width="2.5" stroke-linejoin="round" stroke-opacity=".7"/>
<g filter="url(#pb1)">
 <path d="M420 520 C470 500 530 520 560 560 C560 610 530 640 480 640 C440 620 420 570 420 520 Z" fill="#F0D4D0" opacity=".8"/>
 <path d="M250 380 C290 390 330 410 350 440 C320 450 280 440 250 400 Z" fill="#F2DCD8" opacity=".8"/>
 <ellipse cx="240" cy="515" rx="30" ry="14" fill="#C8A030" opacity=".8"/>
 <path d="M300 560 C340 570 380 590 420 620" stroke="#F2D0CC" stroke-width="18" fill="none" opacity=".6"/>
 </g>
</g></g>
<clipPath id="c00"><rect width="105" height="105.0"/></clipPath>
<g transform="translate(61 362.5)" clip-path="url(#c00)">
<rect width="105" height="105.0" fill="#DE80CE" filter="url(#tHE)"/>
<g transform="scale(0.13548)"><g filter="url(#soft)"><ellipse cx="145" cy="158" rx="30" ry="14" transform="rotate(-12 145 158)" fill="#fff"/>
 <path d="M495 528 C505 470 560 415 640 384 C662 398 650 432 618 442 C575 458 535 485 505 532 Z" fill="#fff"/>
 <path d="M470 600 L480 630" stroke="#fff" stroke-width="6" opacity=".7"/></g></g>
<path d="M2.5 99.5H23.5" stroke="#222" stroke-width="0.6" opacity=".85"/><path d="M3 101.3H24" stroke="#444" stroke-width="0.7" stroke-dasharray="0.8 1.8" opacity=".6"/>
</g>
<clipPath id="c01"><rect width="105" height="105.0"/></clipPath>
<g transform="translate(184 362.5)" clip-path="url(#c01)">
<rect width="105" height="105.0" fill="#DA7ECC" filter="url(#tHE)"/>
<g transform="scale(0.13548)"><g filter="url(#soft)"><g filter="url(#soft3)"><path d="M280 80 C340 200 380 400 440 700 L600 700 C520 420 480 220 420 60 Z" fill="#7250B8" opacity=".32"/>
 <ellipse cx="445" cy="640" rx="55" ry="60" fill="#6A48B4" opacity=".4"/>
 <ellipse cx="330" cy="150" rx="55" ry="45" fill="#6A48B4" opacity=".35"/>
 <path d="M0 60 C60 120 120 200 170 250 L120 330 C80 260 40 200 0 160 Z" fill="#F4B8E4" opacity=".5"/>
 <path d="M40 330 C100 380 160 430 220 520 L160 560 C120 480 80 420 20 380 Z" fill="#F4B8E4" opacity=".45"/>
 <path d="M200 560 C260 600 310 660 340 782 L260 782 C240 700 220 640 180 600 Z" fill="#F4B8E4" opacity=".45"/></g>
 <path d="M12 30 C45 80 95 135 145 190 L155 180 C110 130 65 70 32 22 Z" fill="#fff"/>
 <path d="M150 0 L205 0 L192 80 Z" fill="#fff"/>
 <path d="M262 178 L300 200 L332 190 L322 282 L305 232 Z" fill="#fff"/>
 <path d="M340 350 C360 430 375 500 398 565" stroke="#fff" stroke-width="9" fill="none"/>
 <path d="M58 352 C105 368 148 405 172 452 L158 458 C130 420 100 390 60 364 Z" fill="#fff"/>
 <path d="M238 600 C285 618 312 662 322 702 L302 694 C285 652 262 630 238 612 Z" fill="#fff"/>
 <path d="M325 688 L372 782 L340 782 Z" fill="#fff"/>
 <path d="M630 280 C665 350 700 430 765 570" stroke="#F0B8E8" stroke-width="26" fill="none" opacity=".55"/></g></g>
<path d="M2.5 99.5H23.5" stroke="#222" stroke-width="0.6" opacity=".85"/><path d="M3 101.3H24" stroke="#444" stroke-width="0.7" stroke-dasharray="0.8 1.8" opacity=".6"/>
</g>
<clipPath id="c02"><rect width="105" height="105.0"/></clipPath>
<g transform="translate(307 362.5)" clip-path="url(#c02)">
<rect width="105" height="105.0" fill="#E084D2" filter="url(#tHE)"/>
<g transform="scale(0.13548)"><g filter="url(#soft)"><ellipse cx="205" cy="345" rx="38" ry="40" fill="#6A58C4" opacity=".7" filter="url(#soft2)"/>
 <path d="M240 128 C226 170 216 200 214 232" stroke="#fff" stroke-width="8" fill="none"/>
 <path d="M624 0 C632 50 640 100 618 160 L590 170 L640 150" stroke="#fff" stroke-width="9" fill="none"/>
 <path d="M478 420 L522 378 L512 432 Z" fill="#fff" opacity=".85"/>
 <path d="M560 500 L590 560" stroke="#fff" stroke-width="5" opacity=".6"/></g></g>
<path d="M2.5 99.5H23.5" stroke="#222" stroke-width="0.6" opacity=".85"/><path d="M3 101.3H24" stroke="#444" stroke-width="0.7" stroke-dasharray="0.8 1.8" opacity=".6"/>
</g>
<clipPath id="c03"><rect width="105" height="105.0"/></clipPath>
<g transform="translate(429 362.5)" clip-path="url(#c03)">
<rect width="105" height="105.0" fill="#E086D2" filter="url(#tHE)"/>
<g transform="scale(0.13548)"><g filter="url(#soft)"><path d="M400 410 L455 383 L492 450 L548 518 L480 482 L410 458 Z" fill="#fff"/>
 <ellipse cx="360" cy="205" rx="11" ry="26" fill="#fff"/>
 <path d="M0 325 L110 320" stroke="#4B3CA0" stroke-width="7"/>
 <path d="M110 320 L205 332" stroke="#F2D8F0" stroke-width="6"/>
 <ellipse cx="410" cy="700" rx="16" ry="9" fill="#fff"/></g></g>
<path d="M2.5 99.5H23.5" stroke="#222" stroke-width="0.6" opacity=".85"/><path d="M3 101.3H24" stroke="#444" stroke-width="0.7" stroke-dasharray="0.8 1.8" opacity=".6"/>
</g>
<clipPath id="c04"><rect width="104" height="105.0"/></clipPath>
<g transform="translate(553 362.5)" clip-path="url(#c04)">
<rect width="104" height="105.0" fill="#E086D2" filter="url(#tHE)"/>
<g transform="scale(0.13548)"><g filter="url(#soft)"><path d="M258 520 L372 508 L382 545 L345 598 Z" fill="#fff"/>
 <path d="M345 595 L452 692" stroke="#fff" stroke-width="9"/>
 <path d="M80 210 L110 300 L142 390 L190 470 L168 470 L130 400 L100 312 Z" fill="#fff"/>
 <ellipse cx="120" cy="298" rx="10" ry="14" fill="#4B3CA0"/>
 <ellipse cx="545" cy="75" rx="18" ry="18" fill="#fff"/>
 <ellipse cx="210" cy="130" rx="9" ry="9" fill="#fff"/>
 <path d="M600 272 L680 322 L722 352" stroke="#fff" stroke-width="6" fill="none"/>
 <path d="M745 0 L745 300" stroke="#F4DDF2" stroke-width="8"/>
 <path d="M455 410 L490 410 M470 395 L470 430" stroke="#fff" stroke-width="5"/></g></g>
<path d="M2.5 99.5H23.5" stroke="#222" stroke-width="0.6" opacity=".85"/><path d="M3 101.3H24" stroke="#444" stroke-width="0.7" stroke-dasharray="0.8 1.8" opacity=".6"/>
</g>
<clipPath id="c05"><rect width="105" height="105.0"/></clipPath>
<g transform="translate(668 362.5)" clip-path="url(#c05)">
<rect width="105" height="105.0" fill="#DA80CC" filter="url(#tHE)"/>
<g transform="scale(0.13548)"><g filter="url(#soft)"><g fill="none" stroke-width="8">
 <ellipse cx="505" cy="135" rx="14" ry="20" stroke="#E88898"/>
 <ellipse cx="300" cy="420" rx="10" ry="20" stroke="#E88898"/>
 <ellipse cx="280" cy="470" rx="12" ry="12" stroke="#fff"/>
 <ellipse cx="510" cy="522" rx="13" ry="18" stroke="#fff"/>
 <ellipse cx="648" cy="325" rx="10" ry="14" stroke="#F6E0F0"/>
 <ellipse cx="175" cy="655" rx="8" ry="14" stroke="#E88898"/>
 <ellipse cx="640" cy="495" rx="8" ry="8" stroke="#E88898"/>
 <ellipse cx="460" cy="750" rx="20" ry="16" stroke="#EAA0B0"/>
 </g>
 <g stroke="#fff" stroke-width="9" fill="none">
 <path d="M258 115 L272 158"/>
 <path d="M10 300 L45 255"/>
 <path d="M96 395 L110 340"/>
 <path d="M415 285 L445 300 L440 330"/>
 <path d="M45 440 L40 520"/>
 <path d="M620 0 L612 20"/>
 </g></g></g>
<path d="M2.5 99.5H23.5" stroke="#222" stroke-width="0.6" opacity=".85"/><path d="M3 101.3H24" stroke="#444" stroke-width="0.7" stroke-dasharray="0.8 1.8" opacity=".6"/>
</g>
<clipPath id="c10"><rect width="105" height="91"/></clipPath>
<g transform="translate(61 482)" clip-path="url(#c10)">
<rect width="105" height="91" fill="#F2EA98" filter="url(#tSR)"/>
<g transform="scale(0.13548)"><g filter="url(#soft)"><ellipse cx="534" cy="498" rx="14" ry="9" fill="#fff"/>
 <path d="M0 600 L10 610" stroke="#fff" stroke-width="6"/></g></g>
<path d="M2.5 85.5H23.5" stroke="#222" stroke-width="0.6" opacity=".85"/><path d="M3 87.3H24" stroke="#444" stroke-width="0.7" stroke-dasharray="0.8 1.8" opacity=".6"/>
</g>
<clipPath id="c11"><rect width="105" height="91"/></clipPath>
<g transform="translate(184 482)" clip-path="url(#c11)">
<rect width="105" height="91" fill="#F0E25E" filter="url(#tSR)"/>
<g transform="scale(0.13548)"><g filter="url(#soft)"><g fill="none" stroke="#F4C49C" stroke-linecap="round" stroke-linejoin="round" filter="url(#rough2)" opacity=".8">
 <path d="M0 22 C60 8 130 10 168 40 C175 80 150 120 110 150 C70 180 30 205 0 222" stroke-width="27"/>
 <path d="M168 40 C210 25 260 20 280 60 C280 90 240 100 200 100" stroke-width="20"/>
 <path d="M470 10 C478 100 500 180 520 250 C535 320 570 390 605 460 C612 540 590 600 560 640 L520 672" stroke-width="44"/>
 <path d="M300 262 C350 245 420 238 500 250" stroke-width="23"/>
 <path d="M605 455 C640 410 690 370 775 325" stroke-width="37"/>
 <path d="M0 560 C40 540 90 520 190 482" stroke-width="34"/>
 <path d="M0 0 L775 0" stroke-width="17"/>
 <path d="M380 200 C400 160 430 150 470 160" stroke-width="13"/>
 </g>
 <g fill="none" stroke="#E2785E" stroke-linecap="round" stroke-linejoin="round" filter="url(#soft)" opacity=".55">
 <path d="M0 22 C60 8 130 10 168 40 C175 80 150 120 110 150 C70 180 30 205 0 222" stroke-width="5"/>
 <path d="M168 40 C210 25 260 20 280 60 C280 90 240 100 200 100" stroke-width="4"/>
 <path d="M470 10 C478 100 500 180 520 250 C535 320 570 390 605 460 C612 540 590 600 560 640 L520 672" stroke-width="8"/>
 <path d="M300 262 C350 245 420 238 500 250" stroke-width="4"/>
 <path d="M605 455 C640 410 690 370 775 325" stroke-width="7"/>
 <path d="M0 560 C40 540 90 520 190 482" stroke-width="6"/>
 <path d="M0 0 L775 0" stroke-width="3"/>
 <path d="M380 200 C400 160 430 150 470 160" stroke-width="3"/>
 </g>
 <ellipse cx="35" cy="545" rx="22" ry="14" fill="#fff"/>
 <ellipse cx="620" cy="565" rx="12" ry="12" fill="#fff"/>
 <ellipse cx="520" cy="665" rx="30" ry="12" fill="#fff"/>
 <path d="M490 120 C500 180 520 230 540 300" stroke="#F4E6A0" stroke-width="8" fill="none"/></g></g>
<path d="M2.5 85.5H23.5" stroke="#222" stroke-width="0.6" opacity=".85"/><path d="M3 87.3H24" stroke="#444" stroke-width="0.7" stroke-dasharray="0.8 1.8" opacity=".6"/>
</g>
<clipPath id="c12"><rect width="105" height="91"/></clipPath>
<g transform="translate(307 482)" clip-path="url(#c12)">
<rect width="105" height="91" fill="#F0E462" filter="url(#tSR)"/>
<g transform="scale(0.13548)"><g filter="url(#soft)"><g fill="none" stroke="#F4C49C" stroke-linecap="round" stroke-linejoin="round" stroke-width="18" filter="url(#rough2)" opacity=".8">
 <path d="M310 50 C300 90 280 120 200 180 C150 220 110 260 70 320 C45 360 40 400 50 480 L60 560"/>
 <path d="M150 260 L160 330"/>
 <path d="M630 110 C610 150 580 180 500 230 C440 270 400 300 360 340 C320 390 300 440 300 480 C305 520 330 550 310 620 L290 672"/>
 <path d="M580 180 C620 220 635 260 615 350 C590 410 540 450 480 480 C420 505 380 520 340 540"/>
 <path d="M630 130 L720 110"/>
 </g>
 <g fill="none" stroke="#E2785E" stroke-linecap="round" stroke-linejoin="round" stroke-width="4" filter="url(#soft)" opacity=".5">
 <path d="M310 50 C300 90 280 120 200 180 C150 220 110 260 70 320 C45 360 40 400 50 480 L60 560"/>
 <path d="M150 260 L160 330"/>
 <path d="M630 110 C610 150 580 180 500 230 C440 270 400 300 360 340 C320 390 300 440 300 480 C305 520 330 550 310 620 L290 672"/>
 <path d="M580 180 C620 220 635 260 615 350 C590 410 540 450 480 480 C420 505 380 520 340 540"/>
 <path d="M630 130 L720 110"/>
 </g>
 <path d="M60 330 L130 260" stroke="#F4D890" stroke-width="10"/>
 <path d="M730 505 L775 500 L760 530 Z" fill="#fff"/></g></g>
<path d="M2.5 85.5H23.5" stroke="#222" stroke-width="0.6" opacity=".85"/><path d="M3 87.3H24" stroke="#444" stroke-width="0.7" stroke-dasharray="0.8 1.8" opacity=".6"/>
</g>
<clipPath id="c13"><rect width="105" height="91"/></clipPath>
<g transform="translate(429 482)" clip-path="url(#c13)">
<rect width="105" height="91" fill="#F2E98A" filter="url(#tSR)"/>
<g transform="scale(0.13548)"><g filter="url(#soft)"><g fill="none" stroke="#E69A88" stroke-linecap="round" stroke-width="4.5" opacity=".75">
 <path d="M0 100 L60 70 L110 40"/>
 <path d="M160 230 L250 200 L370 180"/>
 <path d="M170 230 L150 330 L120 420"/>
 <path d="M520 230 L580 208 L625 232 M575 190 L585 250"/>
 <path d="M480 380 L460 460"/>
 <path d="M520 0 L548 22"/>
 <path d="M600 600 L700 560 L775 540"/>
 </g>
 <path d="M270 372 L370 368" stroke="#F8F0B8" stroke-width="8"/>
 <path d="M0 0 L40 0 L0 22 Z" fill="#fff"/></g></g>
<path d="M2.5 85.5H23.5" stroke="#222" stroke-width="0.6" opacity=".85"/><path d="M3 87.3H24" stroke="#444" stroke-width="0.7" stroke-dasharray="0.8 1.8" opacity=".6"/>
</g>
<clipPath id="c14"><rect width="104" height="91"/></clipPath>
<g transform="translate(553 482)" clip-path="url(#c14)">
<rect width="104" height="91" fill="#F3EC98" filter="url(#tSR)"/>
<g transform="scale(0.13548)"><g filter="url(#soft)"><g fill="#fff">
 <ellipse cx="330" cy="20" rx="14" ry="22"/>
 <ellipse cx="430" cy="45" rx="20" ry="30"/>
 <ellipse cx="665" cy="70" rx="20" ry="18" fill="#F8F4D0"/>
 <ellipse cx="350" cy="305" rx="26" ry="18"/>
 </g>
 <g fill="none" stroke="#E69A88" stroke-width="4.5" stroke-linecap="round" opacity=".75">
 <path d="M405 20 C420 50 440 70 470 75"/>
 <path d="M520 60 L560 80 L540 95"/>
 <path d="M180 170 L130 240 L140 380"/>
 <path d="M470 440 L580 420 L590 490"/>
 <path d="M300 410 L315 460"/>
 </g></g></g>
<path d="M2.5 85.5H23.5" stroke="#222" stroke-width="0.6" opacity=".85"/><path d="M3 87.3H24" stroke="#444" stroke-width="0.7" stroke-dasharray="0.8 1.8" opacity=".6"/>
</g>
<clipPath id="c15"><rect width="105" height="91"/></clipPath>
<g transform="translate(668 482)" clip-path="url(#c15)">
<rect width="105" height="91" fill="#F3E4AE" filter="url(#tSR)"/>
<g transform="scale(0.13548)"><g filter="url(#soft)"><g fill="none" stroke="#E0909A" stroke-width="4.5" stroke-linecap="round" opacity=".7">
 <path d="M250 0 L265 30"/>
 <path d="M490 0 L500 30"/>
 <path d="M680 70 L730 90"/>
 <path d="M40 160 L60 210"/>
 <path d="M520 300 L530 360 L510 430"/>
 <path d="M660 290 L680 370 L720 400"/>
 <path d="M210 510 L190 580 L170 640"/>
 <path d="M20 520 L40 600"/>
 <path d="M100 320 L110 370"/>
 </g>
 <path d="M550 560 L520 620" stroke="#fff" stroke-width="6"/>
 <path d="M185 210 L190 190 M390 130 L385 115" stroke="#fff" stroke-width="6"/></g></g>
<path d="M2.5 85.5H23.5" stroke="#222" stroke-width="0.6" opacity=".85"/><path d="M3 87.3H24" stroke="#444" stroke-width="0.7" stroke-dasharray="0.8 1.8" opacity=".6"/>
</g>
<clipPath id="c20"><rect width="105" height="90.0"/></clipPath>
<g transform="translate(61 587.5)" clip-path="url(#c20)">
<rect width="105" height="90.0" fill="#C85CA0" filter="url(#tMA)"/>
<g transform="scale(0.13548)"><g filter="url(#soft)"><ellipse cx="250" cy="360" rx="60" ry="60" fill="#8E80D0" opacity=".25"/>
 <ellipse cx="680" cy="140" rx="30" ry="25" fill="#A0A0E0" opacity=".35"/>
 <path d="M445 600 L445 672" stroke="#fff" stroke-width="6"/>
 <ellipse cx="450" cy="600" rx="12" ry="14" fill="#A0206A" opacity=".7"/></g></g>
<path d="M2.5 84.5H23.5" stroke="#222" stroke-width="0.6" opacity=".85"/><path d="M3 86.3H24" stroke="#444" stroke-width="0.7" stroke-dasharray="0.8 1.8" opacity=".6"/>
</g>
<clipPath id="c21"><rect width="105" height="90.0"/></clipPath>
<g transform="translate(184 587.5)" clip-path="url(#c21)">
<rect width="105" height="90.0" fill="#8C3888" filter="url(#tMA)"/>
<g transform="scale(0.13548)"><g filter="url(#soft)"><g filter="url(#rough)">
 <g fill="none" stroke="#2E46B0" stroke-linecap="round" stroke-linejoin="round" opacity=".92">
 <path d="M165 0 C145 80 128 160 120 250 C112 330 116 420 130 500 C138 560 140 620 140 672" stroke-width="40"/>
 <path d="M165 118 C200 160 250 190 300 205 C340 215 370 220 382 262 C395 330 372 390 332 430 C282 470 232 500 182 530" stroke-width="30"/>
 <path d="M340 420 C400 392 470 358 540 318 C590 288 628 252 640 215 C635 180 612 160 592 150" stroke-width="30"/>
 <path d="M0 440 C50 455 100 470 140 490" stroke-width="22"/>
 <path d="M420 530 C480 545 540 550 650 515" stroke-width="12"/>
 <path d="M540 20 C515 50 505 90 530 130 C560 170 600 200 640 215" stroke-width="26"/>
 <path d="M600 60 C650 30 700 10 760 0" stroke-width="10"/>
 <path d="M180 0 L300 0" stroke-width="14"/>
 </g>
 <path d="M95 430 C160 420 250 480 265 560 C270 625 220 672 150 672 L100 672 C95 600 90 500 95 430 Z" fill="#2E48B4"/>
 <path d="M300 420 C340 400 380 400 400 440 C380 480 340 490 300 470 Z" fill="#3A4CB4" opacity=".8"/>
 </g>
 <g filter="url(#soft)">
 <path d="M488 32 C510 20 538 24 552 38 C570 70 592 125 616 200 C600 212 584 192 560 162 C530 122 504 82 488 32 Z" fill="#F4F4FA"/>
 <path d="M18 0 L50 0 L46 110 L42 215 C60 250 70 300 66 370 L56 432 L34 410 C15 370 5 330 0 300 L0 245 L24 215 L22 120 Z" fill="#F6F2F6" opacity=".92"/>
 <ellipse cx="85" cy="605" rx="22" ry="16" fill="#fff"/>
 </g>
 <g stroke="#F0E8F4" stroke-width="5" fill="none" opacity=".8">
 <path d="M380 230 C420 240 450 250 470 270"/>
 <path d="M680 200 L690 270 M650 210 L760 230"/>
 <path d="M330 460 C350 480 360 500 380 510"/>
 <path d="M540 250 C560 280 580 290 600 300"/>
 <path d="M430 290 C450 320 470 330 500 340"/>
 <path d="M290 500 L330 480 L360 440"/>
 <path d="M440 190 L470 150"/>
 </g></g></g>
<path d="M2.5 84.5H23.5" stroke="#222" stroke-width="0.6" opacity=".85"/><path d="M3 86.3H24" stroke="#444" stroke-width="0.7" stroke-dasharray="0.8 1.8" opacity=".6"/>
</g>
<clipPath id="c22"><rect width="105" height="90.0"/></clipPath>
<g transform="translate(307 587.5)" clip-path="url(#c22)">
<rect width="105" height="90.0" fill="#B44292" filter="url(#tMA)"/>
<g transform="scale(0.13548)"><g filter="url(#soft)"><g fill="none" stroke="#A0A8E4" stroke-linecap="round" stroke-linejoin="round" stroke-width="50" opacity=".3" filter="url(#rough)">
 <path d="M410 0 C380 60 350 120 345 200 C340 300 340 400 330 480 C320 540 300 600 285 672"/>
 <path d="M80 60 C110 80 110 180 90 210 C80 190 75 100 80 60"/>
 <path d="M0 250 C30 230 60 210 90 200"/>
 <path d="M140 270 C160 300 180 320 195 340 C200 380 210 430 230 470"/>
 <path d="M0 410 C50 390 100 360 140 300"/>
 <path d="M600 100 C580 180 540 260 500 330 C460 400 430 450 420 500"/>
 <path d="M540 250 C600 220 650 200 700 190 C730 180 760 170 775 160"/>
 <path d="M300 500 C340 490 380 495 420 500"/>
 <path d="M480 560 C500 600 530 620 560 610 C590 600 600 580 600 560"/>
 <path d="M100 560 L90 672"/>
 </g>
 <g fill="none" stroke="#3E66CC" stroke-linecap="round" stroke-linejoin="round" stroke-width="7" opacity=".85" filter="url(#rough2)">
 <path d="M410 0 C380 60 350 120 345 200 C340 300 340 400 330 480 C320 540 300 600 285 672"/>
 <path d="M80 60 C110 80 110 180 90 210 C80 190 75 100 80 60"/>
 <path d="M0 250 C30 230 60 210 90 200"/>
 <path d="M140 270 C160 300 180 320 195 340 C200 380 210 430 230 470"/>
 <path d="M0 410 C50 390 100 360 140 300"/>
 <path d="M600 100 C580 180 540 260 500 330 C460 400 430 450 420 500"/>
 <path d="M540 250 C600 220 650 200 700 190 C730 180 760 170 775 160"/>
 <path d="M300 500 C340 490 380 495 420 500"/>
 <path d="M480 560 C500 600 530 620 560 610 C590 600 600 580 600 560"/>
 <path d="M100 560 L90 672"/>
 </g>
 <path d="M92 70 C105 90 105 140 95 170" stroke="#fff" stroke-width="10" fill="none"/>
 <ellipse cx="515" cy="605" rx="12" ry="14" fill="#fff"/>
 <ellipse cx="560" cy="630" rx="14" ry="10" fill="#E8E0F0"/>
 <ellipse cx="480" cy="140" rx="8" ry="20" fill="#8A1A5A" opacity=".6"/>
 <path d="M640 510 C680 515 710 505 740 500" stroke="#E8D0F0" stroke-width="6" fill="none"/></g></g>
<path d="M2.5 84.5H23.5" stroke="#222" stroke-width="0.6" opacity=".85"/><path d="M3 86.3H24" stroke="#444" stroke-width="0.7" stroke-dasharray="0.8 1.8" opacity=".6"/>
</g>
<clipPath id="c23"><rect width="105" height="90.0"/></clipPath>
<g transform="translate(429 587.5)" clip-path="url(#c23)">
<rect width="105" height="90.0" fill="#BC3C82" filter="url(#tMA)"/>
<g transform="scale(0.13548)"><g filter="url(#soft)"><g fill="none" stroke="#A0A8E4" stroke-linecap="round" stroke-linejoin="round" stroke-width="40" opacity=".3" filter="url(#rough)">
 <path d="M60 0 C80 50 90 100 110 180 C140 220 180 240 240 260 C280 268 320 270 340 240 C360 200 370 170 380 150"/>
 <path d="M320 270 C345 330 365 420 385 520 C400 550 420 562 460 565 C520 570 560 550 600 520"/>
 <path d="M0 262 C40 245 70 225 100 212"/>
 <path d="M645 100 C625 130 625 170 640 185 C660 170 662 130 645 100"/>
 <path d="M640 600 L672 652"/>
 <path d="M110 420 L120 520"/>
 </g>
 <g fill="none" stroke="#3E5CC8" stroke-linecap="round" stroke-linejoin="round" stroke-width="8" opacity=".9" filter="url(#rough2)">
 <path d="M60 0 C80 50 90 100 110 180 C140 220 180 240 240 260 C280 268 320 270 340 240 C360 200 370 170 380 150"/>
 <path d="M320 270 C345 330 365 420 385 520 C400 550 420 562 460 565 C520 570 560 550 600 520"/>
 <path d="M0 262 C40 245 70 225 100 212"/>
 <path d="M645 100 C625 130 625 170 640 185 C660 170 662 130 645 100"/>
 <path d="M640 600 L672 652"/>
 <path d="M110 420 L120 520"/>
 </g>
 <path d="M85 60 C100 120 120 170 150 200" stroke="#fff" stroke-width="8" fill="none"/>
 <ellipse cx="190" cy="245" rx="45" ry="22" fill="#3848B0" filter="url(#rough)"/><ellipse cx="110" cy="180" rx="40" ry="30" fill="#5070C8" opacity=".6" filter="url(#rough)"/>
 <path d="M645 130 L648 160" stroke="#fff" stroke-width="7"/></g></g>
<path d="M2.5 84.5H23.5" stroke="#222" stroke-width="0.6" opacity=".85"/><path d="M3 86.3H24" stroke="#444" stroke-width="0.7" stroke-dasharray="0.8 1.8" opacity=".6"/>
</g>
<clipPath id="c24"><rect width="104" height="90.0"/></clipPath>
<g transform="translate(553 587.5)" clip-path="url(#c24)">
<rect width="104" height="90.0" fill="#C85896" filter="url(#tMA)"/>
<g transform="scale(0.13548)"><g filter="url(#soft)"><g filter="url(#soft3)" opacity=".5">
 <ellipse cx="280" cy="290" rx="80" ry="60" fill="#8888D8"/>
 <ellipse cx="90" cy="300" rx="70" ry="90" fill="#A890D0" opacity=".6"/>
 <ellipse cx="200" cy="560" rx="90" ry="70" fill="#A890D0" opacity=".6"/>
 <ellipse cx="450" cy="140" rx="70" ry="60" fill="#A890D0" opacity=".5"/>
 <ellipse cx="690" cy="430" rx="50" ry="70" fill="#A890D0" opacity=".5"/>
 <ellipse cx="640" cy="100" rx="110" ry="80" fill="#E06090" opacity=".6"/>
 <ellipse cx="560" cy="420" rx="100" ry="80" fill="#E05090" opacity=".5"/>
 </g>
 <g fill="none" stroke="#8A88D8" stroke-linecap="round" stroke-linejoin="round" stroke-width="8" opacity=".6" filter="url(#soft)">
 <path d="M40 0 C80 60 120 120 200 170 C230 190 240 220 270 260"/>
 <path d="M300 300 C340 295 380 290 440 270"/>
 <path d="M450 140 C460 180 470 220 460 260"/>
 <path d="M60 330 C70 400 60 460 40 520"/>
 <path d="M680 380 C700 420 710 460 700 500"/>
 <path d="M345 540 C360 600 380 630 420 650"/>
 <path d="M0 300 C30 310 50 320 80 330"/>
 <path d="M200 170 C240 140 280 120 320 110"/>
 </g>
 <g filter="url(#soft)">
 <path d="M252 255 C270 242 295 250 305 272 C308 298 296 314 272 314 C256 306 248 282 252 255 Z" fill="#F4EEF6" stroke="#7A78C8" stroke-width="8" stroke-opacity=".7"/>
 <ellipse cx="283" cy="288" rx="11" ry="12" fill="#B81038"/>
 <path d="M432 270 C442 252 460 245 473 258 C477 280 468 292 450 292 C440 288 432 280 432 270 Z" fill="#F4EEF6" stroke="#7A78C8" stroke-width="6" stroke-opacity=".7"/>
 <ellipse cx="452" cy="272" rx="10" ry="12" fill="#B01038"/>
 <path d="M325 522 C342 505 368 510 377 532 C380 558 368 570 350 570 C333 562 322 545 325 522 Z" fill="#F4EEF6" stroke="#8A78C8" stroke-width="6" stroke-opacity=".7"/>
 <ellipse cx="350" cy="540" rx="11" ry="13" fill="#B01038"/>
 <ellipse cx="672" cy="150" rx="14" ry="20" fill="#F6F0F6"/>
 </g></g></g>
<path d="M2.5 84.5H23.5" stroke="#222" stroke-width="0.6" opacity=".85"/><path d="M3 86.3H24" stroke="#444" stroke-width="0.7" stroke-dasharray="0.8 1.8" opacity=".6"/>
</g>
<clipPath id="c25"><rect width="105" height="90.0"/></clipPath>
<g transform="translate(668 587.5)" clip-path="url(#c25)">
<rect width="105" height="90.0" fill="#923676" filter="url(#tMA)"/>
<g transform="scale(0.13548)"><g filter="url(#soft)"><g fill="none" stroke="#F4E4F0" stroke-linecap="round" stroke-width="6">
 <path d="M30 0 C20 50 12 120 10 200"/>
 <path d="M290 0 C280 50 262 100 252 160 C246 200 245 230 246 250"/>
 <path d="M350 80 L355 102"/>
 <path d="M520 80 L525 130"/>
 <path d="M310 440 L320 470 M320 480 C340 500 355 520 360 545"/>
 <path d="M75 500 L70 570"/>
 </g>
 <path d="M530 320 C545 350 560 390 565 425 L550 425 C540 390 530 350 530 320 Z" fill="#fff"/>
 <path d="M540 360 C548 380 555 400 558 420" stroke="#D02030" stroke-width="6" fill="none"/>
 <path d="M700 140 L690 210" stroke="#fff" stroke-width="9"/>
 <path d="M698 160 L692 200" stroke="#D02030" stroke-width="4"/>
 <ellipse cx="270" cy="505" rx="35" ry="35" fill="#D04890" opacity=".6"/>
 <path d="M0 140 L12 120 L15 180 Z" fill="#fff"/></g></g>
<path d="M2.5 84.5H23.5" stroke="#222" stroke-width="0.6" opacity=".85"/><path d="M3 86.3H24" stroke="#444" stroke-width="0.7" stroke-dasharray="0.8 1.8" opacity=".6"/>
</g>
<text x="27.4" y="699.8" font-size="10" text-anchor="middle">CCl<tspan font-size="7.2" dy="2.2">4</tspan></text>
<text x="27.4" y="711.9" font-size="10" text-anchor="middle">SI</text>
<text x="27.4" y="724" font-size="10" text-anchor="middle">SLB</text>
<text x="27.4" y="736.2" font-size="10" text-anchor="middle">VD</text>
<text x="113.4" y="695.8" font-size="10" font-weight="normal" text-anchor="middle">-</text>
<text x="113.4" y="708.6" font-size="10" font-weight="normal" text-anchor="middle">-</text>
<text x="113.4" y="720.8" font-size="10" font-weight="normal" text-anchor="middle">-</text>
<text x="113.4" y="732.9" font-size="10" font-weight="normal" text-anchor="middle">-</text>
<text x="235.3" y="695.8" font-size="10" font-weight="normal" text-anchor="middle">+</text>
<text x="235.3" y="708.6" font-size="10" font-weight="normal" text-anchor="middle">-</text>
<text x="235.3" y="720.8" font-size="10" font-weight="normal" text-anchor="middle">-</text>
<text x="235.3" y="732.9" font-size="10" font-weight="normal" text-anchor="middle">-</text>
<text x="359.1" y="695.8" font-size="10" font-weight="normal" text-anchor="middle">+</text>
<text x="359.1" y="708.6" font-size="10" text-anchor="middle">L</text>
<text x="359.1" y="720.8" font-size="10" font-weight="normal" text-anchor="middle">-</text>
<text x="359.1" y="732.9" font-size="10" font-weight="normal" text-anchor="middle">-</text>
<text x="483.4" y="695.8" font-size="10" font-weight="normal" text-anchor="middle">+</text>
<text x="483.4" y="708.6" font-size="10" text-anchor="middle">H</text>
<text x="483.4" y="720.8" font-size="10" font-weight="normal" text-anchor="middle">-</text>
<text x="483.4" y="732.9" font-size="10" font-weight="normal" text-anchor="middle">-</text>
<text x="608.3" y="695.8" font-size="10" font-weight="normal" text-anchor="middle">+</text>
<text x="608.3" y="708.6" font-size="10" font-weight="normal" text-anchor="middle">-</text>
<text x="608.3" y="720.8" font-size="10" font-weight="normal" text-anchor="middle">+</text>
<text x="608.3" y="732.9" font-size="10" font-weight="normal" text-anchor="middle">-</text>
<text x="712.7" y="695.8" font-size="10" font-weight="normal" text-anchor="middle">+</text>
<text x="712.7" y="708.6" font-size="10" font-weight="normal" text-anchor="middle">-</text>
<text x="712.7" y="720.8" font-size="10" font-weight="normal" text-anchor="middle">-</text>
<text x="712.7" y="732.9" font-size="10" font-weight="normal" text-anchor="middle">+</text>
<text x="26.4" y="409.3" font-size="10" text-anchor="middle">HE</text>
<text x="23" y="522.2" font-size="10" text-anchor="middle">Sirius Red</text>
<text x="25" y="636.7" font-size="10" text-anchor="middle">Masson</text>
</svg></body></html>
